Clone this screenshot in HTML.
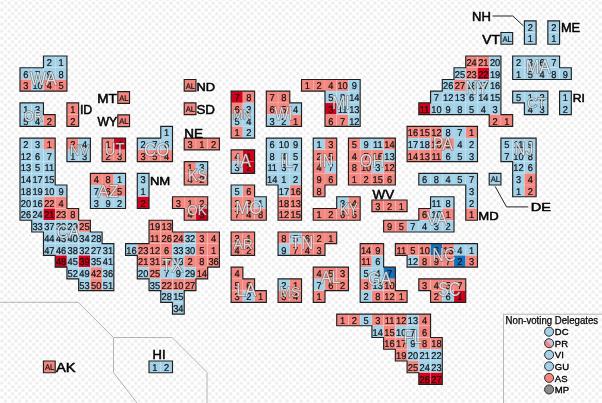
<!DOCTYPE html><html><head><meta charset="utf-8"><style>html,body{margin:0;padding:0;background:#fff;overflow:hidden}</style></head><body><svg width="602" height="403" viewBox="0 0 602 403" style="display:block;will-change:transform">
<defs><pattern id="chk" x="0.2" y="1.3" width="7.04" height="7.04" patternUnits="userSpaceOnUse"><rect width="7.04" height="7.04" fill="#fff"/><rect x="0.26" y="0.26" width="3" height="3" fill="#ededed"/><rect x="3.78" y="3.78" width="3" height="3" fill="#ededed"/></pattern></defs>
<rect width="602" height="403" fill="url(#chk)"/>
<g fill="none" stroke="#b4b4b4" stroke-width="1"><path d="M0 302.3 L78.5 302.3 L113.5 337.5 L172 337.5 L207 372.5 L207 403"/><path d="M113.5 337.5 L113.5 372.5 L137 403"/></g>
<g><rect x="43.46" y="56.00" width="11.73" height="11.73" fill="#a3d1e8" stroke="#ffffff" stroke-opacity="0.22" stroke-width="0.6"/><rect x="55.19" y="56.00" width="11.73" height="11.73" fill="#a3d1e8" stroke="#ffffff" stroke-opacity="0.22" stroke-width="0.6"/><rect x="20.00" y="67.73" width="11.73" height="11.73" fill="#a3d1e8" stroke="#ffffff" stroke-opacity="0.22" stroke-width="0.6"/><rect x="31.73" y="67.73" width="11.73" height="11.73" fill="#a3d1e8" stroke="#ffffff" stroke-opacity="0.22" stroke-width="0.6"/><rect x="43.46" y="67.73" width="11.73" height="11.73" fill="#a3d1e8" stroke="#ffffff" stroke-opacity="0.22" stroke-width="0.6"/><rect x="55.19" y="67.73" width="11.73" height="11.73" fill="#a3d1e8" stroke="#ffffff" stroke-opacity="0.22" stroke-width="0.6"/><rect x="20.00" y="79.46" width="11.73" height="11.73" fill="#f3877f" stroke="#ffffff" stroke-opacity="0.22" stroke-width="0.6"/><rect x="31.73" y="79.46" width="11.73" height="11.73" fill="#a3d1e8" stroke="#ffffff" stroke-opacity="0.22" stroke-width="0.6"/><rect x="43.46" y="79.46" width="11.73" height="11.73" fill="#f3877f" stroke="#ffffff" stroke-opacity="0.22" stroke-width="0.6"/><rect x="55.19" y="79.46" width="11.73" height="11.73" fill="#f3877f" stroke="#ffffff" stroke-opacity="0.22" stroke-width="0.6"/><rect x="20.00" y="102.92" width="11.73" height="11.73" fill="#a3d1e8" stroke="#ffffff" stroke-opacity="0.22" stroke-width="0.6"/><rect x="31.73" y="102.92" width="11.73" height="11.73" fill="#a3d1e8" stroke="#ffffff" stroke-opacity="0.22" stroke-width="0.6"/><rect x="20.00" y="114.65" width="11.73" height="11.73" fill="#a3d1e8" stroke="#ffffff" stroke-opacity="0.22" stroke-width="0.6"/><rect x="31.73" y="114.65" width="11.73" height="11.73" fill="#a3d1e8" stroke="#ffffff" stroke-opacity="0.22" stroke-width="0.6"/><rect x="43.46" y="114.65" width="11.73" height="11.73" fill="#f3877f" stroke="#ffffff" stroke-opacity="0.22" stroke-width="0.6"/><rect x="66.92" y="102.92" width="11.73" height="11.73" fill="#f3877f" stroke="#ffffff" stroke-opacity="0.22" stroke-width="0.6"/><rect x="66.92" y="114.65" width="11.73" height="11.73" fill="#f3877f" stroke="#ffffff" stroke-opacity="0.22" stroke-width="0.6"/><rect x="20.00" y="138.11" width="11.73" height="11.73" fill="#a3d1e8" stroke="#ffffff" stroke-opacity="0.22" stroke-width="0.6"/><rect x="31.73" y="138.11" width="11.73" height="11.73" fill="#a3d1e8" stroke="#ffffff" stroke-opacity="0.22" stroke-width="0.6"/><rect x="43.46" y="138.11" width="11.73" height="11.73" fill="#f3877f" stroke="#ffffff" stroke-opacity="0.22" stroke-width="0.6"/><rect x="20.00" y="149.84" width="11.73" height="11.73" fill="#a3d1e8" stroke="#ffffff" stroke-opacity="0.22" stroke-width="0.6"/><rect x="31.73" y="149.84" width="11.73" height="11.73" fill="#a3d1e8" stroke="#ffffff" stroke-opacity="0.22" stroke-width="0.6"/><rect x="43.46" y="149.84" width="11.73" height="11.73" fill="#a3d1e8" stroke="#ffffff" stroke-opacity="0.22" stroke-width="0.6"/><rect x="20.00" y="161.57" width="11.73" height="11.73" fill="#a3d1e8" stroke="#ffffff" stroke-opacity="0.22" stroke-width="0.6"/><rect x="31.73" y="161.57" width="11.73" height="11.73" fill="#a3d1e8" stroke="#ffffff" stroke-opacity="0.22" stroke-width="0.6"/><rect x="43.46" y="161.57" width="11.73" height="11.73" fill="#a3d1e8" stroke="#ffffff" stroke-opacity="0.22" stroke-width="0.6"/><rect x="20.00" y="173.30" width="11.73" height="11.73" fill="#a3d1e8" stroke="#ffffff" stroke-opacity="0.22" stroke-width="0.6"/><rect x="31.73" y="173.30" width="11.73" height="11.73" fill="#a3d1e8" stroke="#ffffff" stroke-opacity="0.22" stroke-width="0.6"/><rect x="43.46" y="173.30" width="11.73" height="11.73" fill="#a3d1e8" stroke="#ffffff" stroke-opacity="0.22" stroke-width="0.6"/><rect x="20.00" y="185.03" width="11.73" height="11.73" fill="#a3d1e8" stroke="#ffffff" stroke-opacity="0.22" stroke-width="0.6"/><rect x="31.73" y="185.03" width="11.73" height="11.73" fill="#a3d1e8" stroke="#ffffff" stroke-opacity="0.22" stroke-width="0.6"/><rect x="43.46" y="185.03" width="11.73" height="11.73" fill="#a3d1e8" stroke="#ffffff" stroke-opacity="0.22" stroke-width="0.6"/><rect x="55.19" y="185.03" width="11.73" height="11.73" fill="#a3d1e8" stroke="#ffffff" stroke-opacity="0.22" stroke-width="0.6"/><rect x="20.00" y="196.76" width="11.73" height="11.73" fill="#a3d1e8" stroke="#ffffff" stroke-opacity="0.22" stroke-width="0.6"/><rect x="31.73" y="196.76" width="11.73" height="11.73" fill="#a3d1e8" stroke="#ffffff" stroke-opacity="0.22" stroke-width="0.6"/><rect x="43.46" y="196.76" width="11.73" height="11.73" fill="#f3877f" stroke="#ffffff" stroke-opacity="0.22" stroke-width="0.6"/><rect x="55.19" y="196.76" width="11.73" height="11.73" fill="#f3877f" stroke="#ffffff" stroke-opacity="0.22" stroke-width="0.6"/><rect x="20.00" y="208.49" width="11.73" height="11.73" fill="#a3d1e8" stroke="#ffffff" stroke-opacity="0.22" stroke-width="0.6"/><rect x="31.73" y="208.49" width="11.73" height="11.73" fill="#a3d1e8" stroke="#ffffff" stroke-opacity="0.22" stroke-width="0.6"/><rect x="43.46" y="208.49" width="11.73" height="11.73" fill="#d2001a" stroke="#ffffff" stroke-opacity="0.22" stroke-width="0.6"/><rect x="55.19" y="208.49" width="11.73" height="11.73" fill="#f3877f" stroke="#ffffff" stroke-opacity="0.22" stroke-width="0.6"/><rect x="66.92" y="208.49" width="11.73" height="11.73" fill="#f3877f" stroke="#ffffff" stroke-opacity="0.22" stroke-width="0.6"/><rect x="31.73" y="220.22" width="11.73" height="11.73" fill="#a3d1e8" stroke="#ffffff" stroke-opacity="0.22" stroke-width="0.6"/><rect x="43.46" y="220.22" width="11.73" height="11.73" fill="#a3d1e8" stroke="#ffffff" stroke-opacity="0.22" stroke-width="0.6"/><rect x="55.19" y="220.22" width="11.73" height="11.73" fill="#a3d1e8" stroke="#ffffff" stroke-opacity="0.22" stroke-width="0.6"/><rect x="66.92" y="220.22" width="11.73" height="11.73" fill="#a3d1e8" stroke="#ffffff" stroke-opacity="0.22" stroke-width="0.6"/><rect x="78.65" y="220.22" width="11.73" height="11.73" fill="#f3877f" stroke="#ffffff" stroke-opacity="0.22" stroke-width="0.6"/><rect x="43.46" y="231.95" width="11.73" height="11.73" fill="#a3d1e8" stroke="#ffffff" stroke-opacity="0.22" stroke-width="0.6"/><rect x="55.19" y="231.95" width="11.73" height="11.73" fill="#a3d1e8" stroke="#ffffff" stroke-opacity="0.22" stroke-width="0.6"/><rect x="66.92" y="231.95" width="11.73" height="11.73" fill="#a3d1e8" stroke="#ffffff" stroke-opacity="0.22" stroke-width="0.6"/><rect x="78.65" y="231.95" width="11.73" height="11.73" fill="#a3d1e8" stroke="#ffffff" stroke-opacity="0.22" stroke-width="0.6"/><rect x="90.38" y="231.95" width="11.73" height="11.73" fill="#a3d1e8" stroke="#ffffff" stroke-opacity="0.22" stroke-width="0.6"/><rect x="43.46" y="243.68" width="11.73" height="11.73" fill="#a3d1e8" stroke="#ffffff" stroke-opacity="0.22" stroke-width="0.6"/><rect x="55.19" y="243.68" width="11.73" height="11.73" fill="#a3d1e8" stroke="#ffffff" stroke-opacity="0.22" stroke-width="0.6"/><rect x="66.92" y="243.68" width="11.73" height="11.73" fill="#a3d1e8" stroke="#ffffff" stroke-opacity="0.22" stroke-width="0.6"/><rect x="78.65" y="243.68" width="11.73" height="11.73" fill="#a3d1e8" stroke="#ffffff" stroke-opacity="0.22" stroke-width="0.6"/><rect x="90.38" y="243.68" width="11.73" height="11.73" fill="#a3d1e8" stroke="#ffffff" stroke-opacity="0.22" stroke-width="0.6"/><rect x="102.11" y="243.68" width="11.73" height="11.73" fill="#a3d1e8" stroke="#ffffff" stroke-opacity="0.22" stroke-width="0.6"/><rect x="55.19" y="255.41" width="11.73" height="11.73" fill="#d2001a" stroke="#ffffff" stroke-opacity="0.22" stroke-width="0.6"/><rect x="66.92" y="255.41" width="11.73" height="11.73" fill="#a3d1e8" stroke="#ffffff" stroke-opacity="0.22" stroke-width="0.6"/><rect x="78.65" y="255.41" width="11.73" height="11.73" fill="#d2001a" stroke="#ffffff" stroke-opacity="0.22" stroke-width="0.6"/><rect x="90.38" y="255.41" width="11.73" height="11.73" fill="#a3d1e8" stroke="#ffffff" stroke-opacity="0.22" stroke-width="0.6"/><rect x="102.11" y="255.41" width="11.73" height="11.73" fill="#a3d1e8" stroke="#ffffff" stroke-opacity="0.22" stroke-width="0.6"/><rect x="66.92" y="267.14" width="11.73" height="11.73" fill="#a3d1e8" stroke="#ffffff" stroke-opacity="0.22" stroke-width="0.6"/><rect x="78.65" y="267.14" width="11.73" height="11.73" fill="#a3d1e8" stroke="#ffffff" stroke-opacity="0.22" stroke-width="0.6"/><rect x="90.38" y="267.14" width="11.73" height="11.73" fill="#f3877f" stroke="#ffffff" stroke-opacity="0.22" stroke-width="0.6"/><rect x="102.11" y="267.14" width="11.73" height="11.73" fill="#a3d1e8" stroke="#ffffff" stroke-opacity="0.22" stroke-width="0.6"/><rect x="78.65" y="278.87" width="11.73" height="11.73" fill="#a3d1e8" stroke="#ffffff" stroke-opacity="0.22" stroke-width="0.6"/><rect x="90.38" y="278.87" width="11.73" height="11.73" fill="#f3877f" stroke="#ffffff" stroke-opacity="0.22" stroke-width="0.6"/><rect x="102.11" y="278.87" width="11.73" height="11.73" fill="#a3d1e8" stroke="#ffffff" stroke-opacity="0.22" stroke-width="0.6"/><rect x="66.92" y="138.11" width="11.73" height="11.73" fill="#f3877f" stroke="#ffffff" stroke-opacity="0.22" stroke-width="0.6"/><rect x="78.65" y="138.11" width="11.73" height="11.73" fill="#a3d1e8" stroke="#ffffff" stroke-opacity="0.22" stroke-width="0.6"/><rect x="66.92" y="149.84" width="11.73" height="11.73" fill="#a3d1e8" stroke="#ffffff" stroke-opacity="0.22" stroke-width="0.6"/><rect x="78.65" y="149.84" width="11.73" height="11.73" fill="#a3d1e8" stroke="#ffffff" stroke-opacity="0.22" stroke-width="0.6"/><rect x="102.11" y="138.11" width="11.73" height="11.73" fill="#f3877f" stroke="#ffffff" stroke-opacity="0.22" stroke-width="0.6"/><rect x="113.84" y="138.11" width="11.73" height="11.73" fill="#d2001a" stroke="#ffffff" stroke-opacity="0.22" stroke-width="0.6"/><rect x="102.11" y="149.84" width="11.73" height="11.73" fill="#f3877f" stroke="#ffffff" stroke-opacity="0.22" stroke-width="0.6"/><rect x="113.84" y="149.84" width="11.73" height="11.73" fill="#f3877f" stroke="#ffffff" stroke-opacity="0.22" stroke-width="0.6"/><rect x="160.76" y="126.38" width="11.73" height="11.73" fill="#a3d1e8" stroke="#ffffff" stroke-opacity="0.22" stroke-width="0.6"/><rect x="137.30" y="138.11" width="11.73" height="11.73" fill="#a3d1e8" stroke="#ffffff" stroke-opacity="0.22" stroke-width="0.6"/><rect x="149.03" y="138.11" width="11.73" height="11.73" fill="#a3d1e8" stroke="#ffffff" stroke-opacity="0.22" stroke-width="0.6"/><rect x="160.76" y="138.11" width="11.73" height="11.73" fill="#a3d1e8" stroke="#ffffff" stroke-opacity="0.22" stroke-width="0.6"/><rect x="137.30" y="149.84" width="11.73" height="11.73" fill="#f3877f" stroke="#ffffff" stroke-opacity="0.22" stroke-width="0.6"/><rect x="149.03" y="149.84" width="11.73" height="11.73" fill="#f3877f" stroke="#ffffff" stroke-opacity="0.22" stroke-width="0.6"/><rect x="160.76" y="149.84" width="11.73" height="11.73" fill="#f3877f" stroke="#ffffff" stroke-opacity="0.22" stroke-width="0.6"/><rect x="90.38" y="173.30" width="11.73" height="11.73" fill="#f3877f" stroke="#ffffff" stroke-opacity="0.22" stroke-width="0.6"/><rect x="102.11" y="173.30" width="11.73" height="11.73" fill="#f3877f" stroke="#ffffff" stroke-opacity="0.22" stroke-width="0.6"/><rect x="113.84" y="173.30" width="11.73" height="11.73" fill="#a3d1e8" stroke="#ffffff" stroke-opacity="0.22" stroke-width="0.6"/><rect x="90.38" y="185.03" width="11.73" height="11.73" fill="#a3d1e8" stroke="#ffffff" stroke-opacity="0.22" stroke-width="0.6"/><rect x="102.11" y="185.03" width="11.73" height="11.73" fill="#f3877f" stroke="#ffffff" stroke-opacity="0.22" stroke-width="0.6"/><rect x="113.84" y="185.03" width="11.73" height="11.73" fill="#f3877f" stroke="#ffffff" stroke-opacity="0.22" stroke-width="0.6"/><rect x="90.38" y="196.76" width="11.73" height="11.73" fill="#a3d1e8" stroke="#ffffff" stroke-opacity="0.22" stroke-width="0.6"/><rect x="102.11" y="196.76" width="11.73" height="11.73" fill="#a3d1e8" stroke="#ffffff" stroke-opacity="0.22" stroke-width="0.6"/><rect x="113.84" y="196.76" width="11.73" height="11.73" fill="#a3d1e8" stroke="#ffffff" stroke-opacity="0.22" stroke-width="0.6"/><rect x="137.30" y="173.30" width="11.73" height="11.73" fill="#a3d1e8" stroke="#ffffff" stroke-opacity="0.22" stroke-width="0.6"/><rect x="137.30" y="185.03" width="11.73" height="11.73" fill="#a3d1e8" stroke="#ffffff" stroke-opacity="0.22" stroke-width="0.6"/><rect x="137.30" y="196.76" width="11.73" height="11.73" fill="#d2001a" stroke="#ffffff" stroke-opacity="0.22" stroke-width="0.6"/><rect x="184.22" y="79.46" width="11.73" height="11.73" fill="#f3877f" stroke="#ffffff" stroke-opacity="0.22" stroke-width="0.6"/><rect x="184.22" y="102.92" width="11.73" height="11.73" fill="#f3877f" stroke="#ffffff" stroke-opacity="0.22" stroke-width="0.6"/><rect x="184.22" y="138.11" width="11.73" height="11.73" fill="#f3877f" stroke="#ffffff" stroke-opacity="0.22" stroke-width="0.6"/><rect x="195.95" y="138.11" width="11.73" height="11.73" fill="#f3877f" stroke="#ffffff" stroke-opacity="0.22" stroke-width="0.6"/><rect x="207.68" y="138.11" width="11.73" height="11.73" fill="#f3877f" stroke="#ffffff" stroke-opacity="0.22" stroke-width="0.6"/><rect x="184.22" y="161.57" width="11.73" height="11.73" fill="#f3877f" stroke="#ffffff" stroke-opacity="0.22" stroke-width="0.6"/><rect x="195.95" y="161.57" width="11.73" height="11.73" fill="#a3d1e8" stroke="#ffffff" stroke-opacity="0.22" stroke-width="0.6"/><rect x="184.22" y="173.30" width="11.73" height="11.73" fill="#f3877f" stroke="#ffffff" stroke-opacity="0.22" stroke-width="0.6"/><rect x="195.95" y="173.30" width="11.73" height="11.73" fill="#f3877f" stroke="#ffffff" stroke-opacity="0.22" stroke-width="0.6"/><rect x="172.49" y="196.76" width="11.73" height="11.73" fill="#f3877f" stroke="#ffffff" stroke-opacity="0.22" stroke-width="0.6"/><rect x="184.22" y="196.76" width="11.73" height="11.73" fill="#f3877f" stroke="#ffffff" stroke-opacity="0.22" stroke-width="0.6"/><rect x="195.95" y="196.76" width="11.73" height="11.73" fill="#f3877f" stroke="#ffffff" stroke-opacity="0.22" stroke-width="0.6"/><rect x="184.22" y="208.49" width="11.73" height="11.73" fill="#f3877f" stroke="#ffffff" stroke-opacity="0.22" stroke-width="0.6"/><rect x="195.95" y="208.49" width="11.73" height="11.73" fill="#d2001a" stroke="#ffffff" stroke-opacity="0.22" stroke-width="0.6"/><rect x="149.03" y="220.22" width="11.73" height="11.73" fill="#f3877f" stroke="#ffffff" stroke-opacity="0.22" stroke-width="0.6"/><rect x="160.76" y="220.22" width="11.73" height="11.73" fill="#f3877f" stroke="#ffffff" stroke-opacity="0.22" stroke-width="0.6"/><rect x="149.03" y="231.95" width="11.73" height="11.73" fill="#f3877f" stroke="#ffffff" stroke-opacity="0.22" stroke-width="0.6"/><rect x="160.76" y="231.95" width="11.73" height="11.73" fill="#f3877f" stroke="#ffffff" stroke-opacity="0.22" stroke-width="0.6"/><rect x="172.49" y="231.95" width="11.73" height="11.73" fill="#f3877f" stroke="#ffffff" stroke-opacity="0.22" stroke-width="0.6"/><rect x="184.22" y="231.95" width="11.73" height="11.73" fill="#a3d1e8" stroke="#ffffff" stroke-opacity="0.22" stroke-width="0.6"/><rect x="195.95" y="231.95" width="11.73" height="11.73" fill="#f3877f" stroke="#ffffff" stroke-opacity="0.22" stroke-width="0.6"/><rect x="207.68" y="231.95" width="11.73" height="11.73" fill="#f3877f" stroke="#ffffff" stroke-opacity="0.22" stroke-width="0.6"/><rect x="125.57" y="243.68" width="11.73" height="11.73" fill="#a3d1e8" stroke="#ffffff" stroke-opacity="0.22" stroke-width="0.6"/><rect x="137.30" y="243.68" width="11.73" height="11.73" fill="#f3877f" stroke="#ffffff" stroke-opacity="0.22" stroke-width="0.6"/><rect x="149.03" y="243.68" width="11.73" height="11.73" fill="#f3877f" stroke="#ffffff" stroke-opacity="0.22" stroke-width="0.6"/><rect x="160.76" y="243.68" width="11.73" height="11.73" fill="#f3877f" stroke="#ffffff" stroke-opacity="0.22" stroke-width="0.6"/><rect x="172.49" y="243.68" width="11.73" height="11.73" fill="#a3d1e8" stroke="#ffffff" stroke-opacity="0.22" stroke-width="0.6"/><rect x="184.22" y="243.68" width="11.73" height="11.73" fill="#a3d1e8" stroke="#ffffff" stroke-opacity="0.22" stroke-width="0.6"/><rect x="195.95" y="243.68" width="11.73" height="11.73" fill="#f3877f" stroke="#ffffff" stroke-opacity="0.22" stroke-width="0.6"/><rect x="207.68" y="243.68" width="11.73" height="11.73" fill="#f3877f" stroke="#ffffff" stroke-opacity="0.22" stroke-width="0.6"/><rect x="137.30" y="255.41" width="11.73" height="11.73" fill="#f3877f" stroke="#ffffff" stroke-opacity="0.22" stroke-width="0.6"/><rect x="149.03" y="255.41" width="11.73" height="11.73" fill="#f3877f" stroke="#ffffff" stroke-opacity="0.22" stroke-width="0.6"/><rect x="160.76" y="255.41" width="11.73" height="11.73" fill="#f3877f" stroke="#ffffff" stroke-opacity="0.22" stroke-width="0.6"/><rect x="172.49" y="255.41" width="11.73" height="11.73" fill="#a3d1e8" stroke="#ffffff" stroke-opacity="0.22" stroke-width="0.6"/><rect x="184.22" y="255.41" width="11.73" height="11.73" fill="#f3877f" stroke="#ffffff" stroke-opacity="0.22" stroke-width="0.6"/><rect x="195.95" y="255.41" width="11.73" height="11.73" fill="#f3877f" stroke="#ffffff" stroke-opacity="0.22" stroke-width="0.6"/><rect x="207.68" y="255.41" width="11.73" height="11.73" fill="#f3877f" stroke="#ffffff" stroke-opacity="0.22" stroke-width="0.6"/><rect x="137.30" y="267.14" width="11.73" height="11.73" fill="#a3d1e8" stroke="#ffffff" stroke-opacity="0.22" stroke-width="0.6"/><rect x="149.03" y="267.14" width="11.73" height="11.73" fill="#f3877f" stroke="#ffffff" stroke-opacity="0.22" stroke-width="0.6"/><rect x="160.76" y="267.14" width="11.73" height="11.73" fill="#a3d1e8" stroke="#ffffff" stroke-opacity="0.22" stroke-width="0.6"/><rect x="172.49" y="267.14" width="11.73" height="11.73" fill="#a3d1e8" stroke="#ffffff" stroke-opacity="0.22" stroke-width="0.6"/><rect x="184.22" y="267.14" width="11.73" height="11.73" fill="#a3d1e8" stroke="#ffffff" stroke-opacity="0.22" stroke-width="0.6"/><rect x="195.95" y="267.14" width="11.73" height="11.73" fill="#f3877f" stroke="#ffffff" stroke-opacity="0.22" stroke-width="0.6"/><rect x="149.03" y="278.87" width="11.73" height="11.73" fill="#a3d1e8" stroke="#ffffff" stroke-opacity="0.22" stroke-width="0.6"/><rect x="160.76" y="278.87" width="11.73" height="11.73" fill="#f3877f" stroke="#ffffff" stroke-opacity="0.22" stroke-width="0.6"/><rect x="172.49" y="278.87" width="11.73" height="11.73" fill="#f3877f" stroke="#ffffff" stroke-opacity="0.22" stroke-width="0.6"/><rect x="184.22" y="278.87" width="11.73" height="11.73" fill="#f3877f" stroke="#ffffff" stroke-opacity="0.22" stroke-width="0.6"/><rect x="160.76" y="290.60" width="11.73" height="11.73" fill="#a3d1e8" stroke="#ffffff" stroke-opacity="0.22" stroke-width="0.6"/><rect x="172.49" y="290.60" width="11.73" height="11.73" fill="#a3d1e8" stroke="#ffffff" stroke-opacity="0.22" stroke-width="0.6"/><rect x="172.49" y="302.33" width="11.73" height="11.73" fill="#a3d1e8" stroke="#ffffff" stroke-opacity="0.22" stroke-width="0.6"/><rect x="231.14" y="91.19" width="11.73" height="11.73" fill="#d2001a" stroke="#ffffff" stroke-opacity="0.22" stroke-width="0.6"/><rect x="242.87" y="91.19" width="11.73" height="11.73" fill="#f3877f" stroke="#ffffff" stroke-opacity="0.22" stroke-width="0.6"/><rect x="231.14" y="102.92" width="11.73" height="11.73" fill="#f3877f" stroke="#ffffff" stroke-opacity="0.22" stroke-width="0.6"/><rect x="242.87" y="102.92" width="11.73" height="11.73" fill="#a3d1e8" stroke="#ffffff" stroke-opacity="0.22" stroke-width="0.6"/><rect x="231.14" y="114.65" width="11.73" height="11.73" fill="#a3d1e8" stroke="#ffffff" stroke-opacity="0.22" stroke-width="0.6"/><rect x="242.87" y="114.65" width="11.73" height="11.73" fill="#a3d1e8" stroke="#ffffff" stroke-opacity="0.22" stroke-width="0.6"/><rect x="231.14" y="126.38" width="11.73" height="11.73" fill="#f3877f" stroke="#ffffff" stroke-opacity="0.22" stroke-width="0.6"/><rect x="242.87" y="126.38" width="11.73" height="11.73" fill="#a3d1e8" stroke="#ffffff" stroke-opacity="0.22" stroke-width="0.6"/><rect x="231.14" y="149.84" width="11.73" height="11.73" fill="#f3877f" stroke="#ffffff" stroke-opacity="0.22" stroke-width="0.6"/><rect x="242.87" y="149.84" width="11.73" height="11.73" fill="#d2001a" stroke="#ffffff" stroke-opacity="0.22" stroke-width="0.6"/><rect x="231.14" y="161.57" width="11.73" height="11.73" fill="#a3d1e8" stroke="#ffffff" stroke-opacity="0.22" stroke-width="0.6"/><rect x="242.87" y="161.57" width="11.73" height="11.73" fill="#d2001a" stroke="#ffffff" stroke-opacity="0.22" stroke-width="0.6"/><rect x="231.14" y="185.03" width="11.73" height="11.73" fill="#a3d1e8" stroke="#ffffff" stroke-opacity="0.22" stroke-width="0.6"/><rect x="242.87" y="185.03" width="11.73" height="11.73" fill="#f3877f" stroke="#ffffff" stroke-opacity="0.22" stroke-width="0.6"/><rect x="231.14" y="196.76" width="11.73" height="11.73" fill="#f3877f" stroke="#ffffff" stroke-opacity="0.22" stroke-width="0.6"/><rect x="242.87" y="196.76" width="11.73" height="11.73" fill="#f3877f" stroke="#ffffff" stroke-opacity="0.22" stroke-width="0.6"/><rect x="254.60" y="196.76" width="11.73" height="11.73" fill="#a3d1e8" stroke="#ffffff" stroke-opacity="0.22" stroke-width="0.6"/><rect x="231.14" y="208.49" width="11.73" height="11.73" fill="#f3877f" stroke="#ffffff" stroke-opacity="0.22" stroke-width="0.6"/><rect x="242.87" y="208.49" width="11.73" height="11.73" fill="#f3877f" stroke="#ffffff" stroke-opacity="0.22" stroke-width="0.6"/><rect x="254.60" y="208.49" width="11.73" height="11.73" fill="#f3877f" stroke="#ffffff" stroke-opacity="0.22" stroke-width="0.6"/><rect x="231.14" y="231.95" width="11.73" height="11.73" fill="#f3877f" stroke="#ffffff" stroke-opacity="0.22" stroke-width="0.6"/><rect x="242.87" y="231.95" width="11.73" height="11.73" fill="#f3877f" stroke="#ffffff" stroke-opacity="0.22" stroke-width="0.6"/><rect x="231.14" y="243.68" width="11.73" height="11.73" fill="#f3877f" stroke="#ffffff" stroke-opacity="0.22" stroke-width="0.6"/><rect x="242.87" y="243.68" width="11.73" height="11.73" fill="#f3877f" stroke="#ffffff" stroke-opacity="0.22" stroke-width="0.6"/><rect x="231.14" y="267.14" width="11.73" height="11.73" fill="#f3877f" stroke="#ffffff" stroke-opacity="0.22" stroke-width="0.6"/><rect x="231.14" y="278.87" width="11.73" height="11.73" fill="#f3877f" stroke="#ffffff" stroke-opacity="0.22" stroke-width="0.6"/><rect x="242.87" y="278.87" width="11.73" height="11.73" fill="#f3877f" stroke="#ffffff" stroke-opacity="0.22" stroke-width="0.6"/><rect x="231.14" y="290.60" width="11.73" height="11.73" fill="#f3877f" stroke="#ffffff" stroke-opacity="0.22" stroke-width="0.6"/><rect x="242.87" y="290.60" width="11.73" height="11.73" fill="#a3d1e8" stroke="#ffffff" stroke-opacity="0.22" stroke-width="0.6"/><rect x="254.60" y="290.60" width="11.73" height="11.73" fill="#f3877f" stroke="#ffffff" stroke-opacity="0.22" stroke-width="0.6"/><rect x="266.33" y="91.19" width="11.73" height="11.73" fill="#f3877f" stroke="#ffffff" stroke-opacity="0.22" stroke-width="0.6"/><rect x="278.06" y="91.19" width="11.73" height="11.73" fill="#f3877f" stroke="#ffffff" stroke-opacity="0.22" stroke-width="0.6"/><rect x="266.33" y="102.92" width="11.73" height="11.73" fill="#f3877f" stroke="#ffffff" stroke-opacity="0.22" stroke-width="0.6"/><rect x="278.06" y="102.92" width="11.73" height="11.73" fill="#f3877f" stroke="#ffffff" stroke-opacity="0.22" stroke-width="0.6"/><rect x="289.79" y="102.92" width="11.73" height="11.73" fill="#a3d1e8" stroke="#ffffff" stroke-opacity="0.22" stroke-width="0.6"/><rect x="266.33" y="114.65" width="11.73" height="11.73" fill="#a3d1e8" stroke="#ffffff" stroke-opacity="0.22" stroke-width="0.6"/><rect x="278.06" y="114.65" width="11.73" height="11.73" fill="#a3d1e8" stroke="#ffffff" stroke-opacity="0.22" stroke-width="0.6"/><rect x="289.79" y="114.65" width="11.73" height="11.73" fill="#f3877f" stroke="#ffffff" stroke-opacity="0.22" stroke-width="0.6"/><rect x="266.33" y="138.11" width="11.73" height="11.73" fill="#a3d1e8" stroke="#ffffff" stroke-opacity="0.22" stroke-width="0.6"/><rect x="278.06" y="138.11" width="11.73" height="11.73" fill="#a3d1e8" stroke="#ffffff" stroke-opacity="0.22" stroke-width="0.6"/><rect x="289.79" y="138.11" width="11.73" height="11.73" fill="#a3d1e8" stroke="#ffffff" stroke-opacity="0.22" stroke-width="0.6"/><rect x="266.33" y="149.84" width="11.73" height="11.73" fill="#a3d1e8" stroke="#ffffff" stroke-opacity="0.22" stroke-width="0.6"/><rect x="278.06" y="149.84" width="11.73" height="11.73" fill="#a3d1e8" stroke="#ffffff" stroke-opacity="0.22" stroke-width="0.6"/><rect x="289.79" y="149.84" width="11.73" height="11.73" fill="#a3d1e8" stroke="#ffffff" stroke-opacity="0.22" stroke-width="0.6"/><rect x="266.33" y="161.57" width="11.73" height="11.73" fill="#a3d1e8" stroke="#ffffff" stroke-opacity="0.22" stroke-width="0.6"/><rect x="278.06" y="161.57" width="11.73" height="11.73" fill="#a3d1e8" stroke="#ffffff" stroke-opacity="0.22" stroke-width="0.6"/><rect x="289.79" y="161.57" width="11.73" height="11.73" fill="#a3d1e8" stroke="#ffffff" stroke-opacity="0.22" stroke-width="0.6"/><rect x="266.33" y="173.30" width="11.73" height="11.73" fill="#a3d1e8" stroke="#ffffff" stroke-opacity="0.22" stroke-width="0.6"/><rect x="278.06" y="173.30" width="11.73" height="11.73" fill="#a3d1e8" stroke="#ffffff" stroke-opacity="0.22" stroke-width="0.6"/><rect x="289.79" y="173.30" width="11.73" height="11.73" fill="#a3d1e8" stroke="#ffffff" stroke-opacity="0.22" stroke-width="0.6"/><rect x="278.06" y="185.03" width="11.73" height="11.73" fill="#a3d1e8" stroke="#ffffff" stroke-opacity="0.22" stroke-width="0.6"/><rect x="289.79" y="185.03" width="11.73" height="11.73" fill="#f3877f" stroke="#ffffff" stroke-opacity="0.22" stroke-width="0.6"/><rect x="278.06" y="196.76" width="11.73" height="11.73" fill="#f3877f" stroke="#ffffff" stroke-opacity="0.22" stroke-width="0.6"/><rect x="289.79" y="196.76" width="11.73" height="11.73" fill="#f3877f" stroke="#ffffff" stroke-opacity="0.22" stroke-width="0.6"/><rect x="278.06" y="208.49" width="11.73" height="11.73" fill="#f3877f" stroke="#ffffff" stroke-opacity="0.22" stroke-width="0.6"/><rect x="289.79" y="208.49" width="11.73" height="11.73" fill="#f3877f" stroke="#ffffff" stroke-opacity="0.22" stroke-width="0.6"/><rect x="301.52" y="79.46" width="11.73" height="11.73" fill="#f3877f" stroke="#ffffff" stroke-opacity="0.22" stroke-width="0.6"/><rect x="313.25" y="79.46" width="11.73" height="11.73" fill="#f3877f" stroke="#ffffff" stroke-opacity="0.22" stroke-width="0.6"/><rect x="324.98" y="79.46" width="11.73" height="11.73" fill="#f3877f" stroke="#ffffff" stroke-opacity="0.22" stroke-width="0.6"/><rect x="336.71" y="79.46" width="11.73" height="11.73" fill="#f3877f" stroke="#ffffff" stroke-opacity="0.22" stroke-width="0.6"/><rect x="348.44" y="79.46" width="11.73" height="11.73" fill="#a3d1e8" stroke="#ffffff" stroke-opacity="0.22" stroke-width="0.6"/><rect x="324.98" y="91.19" width="11.73" height="11.73" fill="#a3d1e8" stroke="#ffffff" stroke-opacity="0.22" stroke-width="0.6"/><rect x="336.71" y="91.19" width="11.73" height="11.73" fill="#a3d1e8" stroke="#ffffff" stroke-opacity="0.22" stroke-width="0.6"/><rect x="348.44" y="91.19" width="11.73" height="11.73" fill="#a3d1e8" stroke="#ffffff" stroke-opacity="0.22" stroke-width="0.6"/><rect x="324.98" y="102.92" width="11.73" height="11.73" fill="#d2001a" stroke="#ffffff" stroke-opacity="0.22" stroke-width="0.6"/><rect x="336.71" y="102.92" width="11.73" height="11.73" fill="#a3d1e8" stroke="#ffffff" stroke-opacity="0.22" stroke-width="0.6"/><rect x="348.44" y="102.92" width="11.73" height="11.73" fill="#a3d1e8" stroke="#ffffff" stroke-opacity="0.22" stroke-width="0.6"/><rect x="324.98" y="114.65" width="11.73" height="11.73" fill="#f3877f" stroke="#ffffff" stroke-opacity="0.22" stroke-width="0.6"/><rect x="336.71" y="114.65" width="11.73" height="11.73" fill="#f3877f" stroke="#ffffff" stroke-opacity="0.22" stroke-width="0.6"/><rect x="348.44" y="114.65" width="11.73" height="11.73" fill="#a3d1e8" stroke="#ffffff" stroke-opacity="0.22" stroke-width="0.6"/><rect x="313.25" y="138.11" width="11.73" height="11.73" fill="#a3d1e8" stroke="#ffffff" stroke-opacity="0.22" stroke-width="0.6"/><rect x="324.98" y="138.11" width="11.73" height="11.73" fill="#f3877f" stroke="#ffffff" stroke-opacity="0.22" stroke-width="0.6"/><rect x="313.25" y="149.84" width="11.73" height="11.73" fill="#f3877f" stroke="#ffffff" stroke-opacity="0.22" stroke-width="0.6"/><rect x="324.98" y="149.84" width="11.73" height="11.73" fill="#f3877f" stroke="#ffffff" stroke-opacity="0.22" stroke-width="0.6"/><rect x="313.25" y="161.57" width="11.73" height="11.73" fill="#f3877f" stroke="#ffffff" stroke-opacity="0.22" stroke-width="0.6"/><rect x="324.98" y="161.57" width="11.73" height="11.73" fill="#a3d1e8" stroke="#ffffff" stroke-opacity="0.22" stroke-width="0.6"/><rect x="313.25" y="173.30" width="11.73" height="11.73" fill="#f3877f" stroke="#ffffff" stroke-opacity="0.22" stroke-width="0.6"/><rect x="324.98" y="173.30" width="11.73" height="11.73" fill="#f3877f" stroke="#ffffff" stroke-opacity="0.22" stroke-width="0.6"/><rect x="313.25" y="185.03" width="11.73" height="11.73" fill="#f3877f" stroke="#ffffff" stroke-opacity="0.22" stroke-width="0.6"/><rect x="348.44" y="138.11" width="11.73" height="11.73" fill="#f3877f" stroke="#ffffff" stroke-opacity="0.22" stroke-width="0.6"/><rect x="360.17" y="138.11" width="11.73" height="11.73" fill="#a3d1e8" stroke="#ffffff" stroke-opacity="0.22" stroke-width="0.6"/><rect x="371.90" y="138.11" width="11.73" height="11.73" fill="#a3d1e8" stroke="#ffffff" stroke-opacity="0.22" stroke-width="0.6"/><rect x="383.63" y="138.11" width="11.73" height="11.73" fill="#f3877f" stroke="#ffffff" stroke-opacity="0.22" stroke-width="0.6"/><rect x="348.44" y="149.84" width="11.73" height="11.73" fill="#f3877f" stroke="#ffffff" stroke-opacity="0.22" stroke-width="0.6"/><rect x="360.17" y="149.84" width="11.73" height="11.73" fill="#f3877f" stroke="#ffffff" stroke-opacity="0.22" stroke-width="0.6"/><rect x="371.90" y="149.84" width="11.73" height="11.73" fill="#f3877f" stroke="#ffffff" stroke-opacity="0.22" stroke-width="0.6"/><rect x="383.63" y="149.84" width="11.73" height="11.73" fill="#a3d1e8" stroke="#ffffff" stroke-opacity="0.22" stroke-width="0.6"/><rect x="348.44" y="161.57" width="11.73" height="11.73" fill="#f3877f" stroke="#ffffff" stroke-opacity="0.22" stroke-width="0.6"/><rect x="360.17" y="161.57" width="11.73" height="11.73" fill="#f3877f" stroke="#ffffff" stroke-opacity="0.22" stroke-width="0.6"/><rect x="371.90" y="161.57" width="11.73" height="11.73" fill="#a3d1e8" stroke="#ffffff" stroke-opacity="0.22" stroke-width="0.6"/><rect x="383.63" y="161.57" width="11.73" height="11.73" fill="#f3877f" stroke="#ffffff" stroke-opacity="0.22" stroke-width="0.6"/><rect x="348.44" y="173.30" width="11.73" height="11.73" fill="#f3877f" stroke="#ffffff" stroke-opacity="0.22" stroke-width="0.6"/><rect x="360.17" y="173.30" width="11.73" height="11.73" fill="#f3877f" stroke="#ffffff" stroke-opacity="0.22" stroke-width="0.6"/><rect x="371.90" y="173.30" width="11.73" height="11.73" fill="#f3877f" stroke="#ffffff" stroke-opacity="0.22" stroke-width="0.6"/><rect x="383.63" y="173.30" width="11.73" height="11.73" fill="#f3877f" stroke="#ffffff" stroke-opacity="0.22" stroke-width="0.6"/><rect x="336.71" y="196.76" width="11.73" height="11.73" fill="#a3d1e8" stroke="#ffffff" stroke-opacity="0.22" stroke-width="0.6"/><rect x="348.44" y="196.76" width="11.73" height="11.73" fill="#f3877f" stroke="#ffffff" stroke-opacity="0.22" stroke-width="0.6"/><rect x="313.25" y="208.49" width="11.73" height="11.73" fill="#f3877f" stroke="#ffffff" stroke-opacity="0.22" stroke-width="0.6"/><rect x="324.98" y="208.49" width="11.73" height="11.73" fill="#f3877f" stroke="#ffffff" stroke-opacity="0.22" stroke-width="0.6"/><rect x="336.71" y="208.49" width="11.73" height="11.73" fill="#f3877f" stroke="#ffffff" stroke-opacity="0.22" stroke-width="0.6"/><rect x="348.44" y="208.49" width="11.73" height="11.73" fill="#f3877f" stroke="#ffffff" stroke-opacity="0.22" stroke-width="0.6"/><rect x="371.90" y="199.96" width="11.73" height="11.73" fill="#f3877f" stroke="#ffffff" stroke-opacity="0.22" stroke-width="0.6"/><rect x="383.63" y="199.96" width="11.73" height="11.73" fill="#f3877f" stroke="#ffffff" stroke-opacity="0.22" stroke-width="0.6"/><rect x="395.36" y="199.96" width="11.73" height="11.73" fill="#f3877f" stroke="#ffffff" stroke-opacity="0.22" stroke-width="0.6"/><rect x="278.06" y="231.95" width="11.73" height="11.73" fill="#f3877f" stroke="#ffffff" stroke-opacity="0.22" stroke-width="0.6"/><rect x="289.79" y="231.95" width="11.73" height="11.73" fill="#a3d1e8" stroke="#ffffff" stroke-opacity="0.22" stroke-width="0.6"/><rect x="301.52" y="231.95" width="11.73" height="11.73" fill="#f3877f" stroke="#ffffff" stroke-opacity="0.22" stroke-width="0.6"/><rect x="313.25" y="231.95" width="11.73" height="11.73" fill="#f3877f" stroke="#ffffff" stroke-opacity="0.22" stroke-width="0.6"/><rect x="324.98" y="231.95" width="11.73" height="11.73" fill="#f3877f" stroke="#ffffff" stroke-opacity="0.22" stroke-width="0.6"/><rect x="278.06" y="243.68" width="11.73" height="11.73" fill="#a3d1e8" stroke="#ffffff" stroke-opacity="0.22" stroke-width="0.6"/><rect x="289.79" y="243.68" width="11.73" height="11.73" fill="#f3877f" stroke="#ffffff" stroke-opacity="0.22" stroke-width="0.6"/><rect x="301.52" y="243.68" width="11.73" height="11.73" fill="#f3877f" stroke="#ffffff" stroke-opacity="0.22" stroke-width="0.6"/><rect x="313.25" y="243.68" width="11.73" height="11.73" fill="#f3877f" stroke="#ffffff" stroke-opacity="0.22" stroke-width="0.6"/><rect x="278.06" y="278.87" width="11.73" height="11.73" fill="#a3d1e8" stroke="#ffffff" stroke-opacity="0.22" stroke-width="0.6"/><rect x="289.79" y="278.87" width="11.73" height="11.73" fill="#f3877f" stroke="#ffffff" stroke-opacity="0.22" stroke-width="0.6"/><rect x="278.06" y="290.60" width="11.73" height="11.73" fill="#f3877f" stroke="#ffffff" stroke-opacity="0.22" stroke-width="0.6"/><rect x="289.79" y="290.60" width="11.73" height="11.73" fill="#f3877f" stroke="#ffffff" stroke-opacity="0.22" stroke-width="0.6"/><rect x="313.25" y="267.14" width="11.73" height="11.73" fill="#f3877f" stroke="#ffffff" stroke-opacity="0.22" stroke-width="0.6"/><rect x="324.98" y="267.14" width="11.73" height="11.73" fill="#f3877f" stroke="#ffffff" stroke-opacity="0.22" stroke-width="0.6"/><rect x="336.71" y="267.14" width="11.73" height="11.73" fill="#f3877f" stroke="#ffffff" stroke-opacity="0.22" stroke-width="0.6"/><rect x="313.25" y="278.87" width="11.73" height="11.73" fill="#a3d1e8" stroke="#ffffff" stroke-opacity="0.22" stroke-width="0.6"/><rect x="324.98" y="278.87" width="11.73" height="11.73" fill="#f3877f" stroke="#ffffff" stroke-opacity="0.22" stroke-width="0.6"/><rect x="336.71" y="278.87" width="11.73" height="11.73" fill="#f3877f" stroke="#ffffff" stroke-opacity="0.22" stroke-width="0.6"/><rect x="313.25" y="290.60" width="11.73" height="11.73" fill="#f3877f" stroke="#ffffff" stroke-opacity="0.22" stroke-width="0.6"/><rect x="360.17" y="243.68" width="11.73" height="11.73" fill="#f3877f" stroke="#ffffff" stroke-opacity="0.22" stroke-width="0.6"/><rect x="371.90" y="243.68" width="11.73" height="11.73" fill="#f3877f" stroke="#ffffff" stroke-opacity="0.22" stroke-width="0.6"/><rect x="360.17" y="255.41" width="11.73" height="11.73" fill="#f3877f" stroke="#ffffff" stroke-opacity="0.22" stroke-width="0.6"/><rect x="371.90" y="255.41" width="11.73" height="11.73" fill="#a3d1e8" stroke="#ffffff" stroke-opacity="0.22" stroke-width="0.6"/><rect x="360.17" y="267.14" width="11.73" height="11.73" fill="#a3d1e8" stroke="#ffffff" stroke-opacity="0.22" stroke-width="0.6"/><rect x="371.90" y="267.14" width="11.73" height="11.73" fill="#a3d1e8" stroke="#ffffff" stroke-opacity="0.22" stroke-width="0.6"/><rect x="383.63" y="267.14" width="11.73" height="11.73" fill="#1570bb" stroke="#ffffff" stroke-opacity="0.22" stroke-width="0.6"/><rect x="360.17" y="278.87" width="11.73" height="11.73" fill="#f3877f" stroke="#ffffff" stroke-opacity="0.22" stroke-width="0.6"/><rect x="371.90" y="278.87" width="11.73" height="11.73" fill="#a3d1e8" stroke="#ffffff" stroke-opacity="0.22" stroke-width="0.6"/><rect x="383.63" y="278.87" width="11.73" height="11.73" fill="#f3877f" stroke="#ffffff" stroke-opacity="0.22" stroke-width="0.6"/><rect x="360.17" y="290.60" width="11.73" height="11.73" fill="#a3d1e8" stroke="#ffffff" stroke-opacity="0.22" stroke-width="0.6"/><rect x="371.90" y="290.60" width="11.73" height="11.73" fill="#f3877f" stroke="#ffffff" stroke-opacity="0.22" stroke-width="0.6"/><rect x="383.63" y="290.60" width="11.73" height="11.73" fill="#f3877f" stroke="#ffffff" stroke-opacity="0.22" stroke-width="0.6"/><rect x="395.36" y="290.60" width="11.73" height="11.73" fill="#f3877f" stroke="#ffffff" stroke-opacity="0.22" stroke-width="0.6"/><rect x="336.71" y="314.06" width="11.73" height="11.73" fill="#f3877f" stroke="#ffffff" stroke-opacity="0.22" stroke-width="0.6"/><rect x="348.44" y="314.06" width="11.73" height="11.73" fill="#f3877f" stroke="#ffffff" stroke-opacity="0.22" stroke-width="0.6"/><rect x="360.17" y="314.06" width="11.73" height="11.73" fill="#a3d1e8" stroke="#ffffff" stroke-opacity="0.22" stroke-width="0.6"/><rect x="371.90" y="314.06" width="11.73" height="11.73" fill="#f3877f" stroke="#ffffff" stroke-opacity="0.22" stroke-width="0.6"/><rect x="383.63" y="314.06" width="11.73" height="11.73" fill="#f3877f" stroke="#ffffff" stroke-opacity="0.22" stroke-width="0.6"/><rect x="395.36" y="314.06" width="11.73" height="11.73" fill="#f3877f" stroke="#ffffff" stroke-opacity="0.22" stroke-width="0.6"/><rect x="407.09" y="314.06" width="11.73" height="11.73" fill="#a3d1e8" stroke="#ffffff" stroke-opacity="0.22" stroke-width="0.6"/><rect x="418.82" y="314.06" width="11.73" height="11.73" fill="#f3877f" stroke="#ffffff" stroke-opacity="0.22" stroke-width="0.6"/><rect x="371.90" y="325.79" width="11.73" height="11.73" fill="#a3d1e8" stroke="#ffffff" stroke-opacity="0.22" stroke-width="0.6"/><rect x="383.63" y="325.79" width="11.73" height="11.73" fill="#f3877f" stroke="#ffffff" stroke-opacity="0.22" stroke-width="0.6"/><rect x="395.36" y="325.79" width="11.73" height="11.73" fill="#a3d1e8" stroke="#ffffff" stroke-opacity="0.22" stroke-width="0.6"/><rect x="407.09" y="325.79" width="11.73" height="11.73" fill="#a3d1e8" stroke="#ffffff" stroke-opacity="0.22" stroke-width="0.6"/><rect x="418.82" y="325.79" width="11.73" height="11.73" fill="#f3877f" stroke="#ffffff" stroke-opacity="0.22" stroke-width="0.6"/><rect x="383.63" y="337.52" width="11.73" height="11.73" fill="#f3877f" stroke="#ffffff" stroke-opacity="0.22" stroke-width="0.6"/><rect x="395.36" y="337.52" width="11.73" height="11.73" fill="#f3877f" stroke="#ffffff" stroke-opacity="0.22" stroke-width="0.6"/><rect x="407.09" y="337.52" width="11.73" height="11.73" fill="#a3d1e8" stroke="#ffffff" stroke-opacity="0.22" stroke-width="0.6"/><rect x="418.82" y="337.52" width="11.73" height="11.73" fill="#f3877f" stroke="#ffffff" stroke-opacity="0.22" stroke-width="0.6"/><rect x="430.55" y="337.52" width="11.73" height="11.73" fill="#f3877f" stroke="#ffffff" stroke-opacity="0.22" stroke-width="0.6"/><rect x="395.36" y="349.25" width="11.73" height="11.73" fill="#f3877f" stroke="#ffffff" stroke-opacity="0.22" stroke-width="0.6"/><rect x="407.09" y="349.25" width="11.73" height="11.73" fill="#a3d1e8" stroke="#ffffff" stroke-opacity="0.22" stroke-width="0.6"/><rect x="418.82" y="349.25" width="11.73" height="11.73" fill="#a3d1e8" stroke="#ffffff" stroke-opacity="0.22" stroke-width="0.6"/><rect x="430.55" y="349.25" width="11.73" height="11.73" fill="#a3d1e8" stroke="#ffffff" stroke-opacity="0.22" stroke-width="0.6"/><rect x="407.09" y="360.98" width="11.73" height="11.73" fill="#f3877f" stroke="#ffffff" stroke-opacity="0.22" stroke-width="0.6"/><rect x="418.82" y="360.98" width="11.73" height="11.73" fill="#a3d1e8" stroke="#ffffff" stroke-opacity="0.22" stroke-width="0.6"/><rect x="430.55" y="360.98" width="11.73" height="11.73" fill="#a3d1e8" stroke="#ffffff" stroke-opacity="0.22" stroke-width="0.6"/><rect x="418.82" y="372.71" width="11.73" height="11.73" fill="#d2001a" stroke="#ffffff" stroke-opacity="0.22" stroke-width="0.6"/><rect x="430.55" y="372.71" width="11.73" height="11.73" fill="#d2001a" stroke="#ffffff" stroke-opacity="0.22" stroke-width="0.6"/><rect x="418.82" y="278.87" width="11.73" height="11.73" fill="#f3877f" stroke="#ffffff" stroke-opacity="0.22" stroke-width="0.6"/><rect x="430.55" y="278.87" width="11.73" height="11.73" fill="#f3877f" stroke="#ffffff" stroke-opacity="0.22" stroke-width="0.6"/><rect x="442.28" y="278.87" width="11.73" height="11.73" fill="#f3877f" stroke="#ffffff" stroke-opacity="0.22" stroke-width="0.6"/><rect x="454.01" y="278.87" width="11.73" height="11.73" fill="#f3877f" stroke="#ffffff" stroke-opacity="0.22" stroke-width="0.6"/><rect x="430.55" y="290.60" width="11.73" height="11.73" fill="#f3877f" stroke="#ffffff" stroke-opacity="0.22" stroke-width="0.6"/><rect x="442.28" y="290.60" width="11.73" height="11.73" fill="#a3d1e8" stroke="#ffffff" stroke-opacity="0.22" stroke-width="0.6"/><rect x="454.01" y="290.60" width="11.73" height="11.73" fill="#d2001a" stroke="#ffffff" stroke-opacity="0.22" stroke-width="0.6"/><rect x="395.36" y="243.68" width="11.73" height="11.73" fill="#f3877f" stroke="#ffffff" stroke-opacity="0.22" stroke-width="0.6"/><rect x="407.09" y="243.68" width="11.73" height="11.73" fill="#f3877f" stroke="#ffffff" stroke-opacity="0.22" stroke-width="0.6"/><rect x="418.82" y="243.68" width="11.73" height="11.73" fill="#f3877f" stroke="#ffffff" stroke-opacity="0.22" stroke-width="0.6"/><rect x="430.55" y="243.68" width="11.73" height="11.73" fill="#1570bb" stroke="#ffffff" stroke-opacity="0.22" stroke-width="0.6"/><rect x="442.28" y="243.68" width="11.73" height="11.73" fill="#f3877f" stroke="#ffffff" stroke-opacity="0.22" stroke-width="0.6"/><rect x="454.01" y="243.68" width="11.73" height="11.73" fill="#a3d1e8" stroke="#ffffff" stroke-opacity="0.22" stroke-width="0.6"/><rect x="465.74" y="243.68" width="11.73" height="11.73" fill="#a3d1e8" stroke="#ffffff" stroke-opacity="0.22" stroke-width="0.6"/><rect x="407.09" y="255.41" width="11.73" height="11.73" fill="#a3d1e8" stroke="#ffffff" stroke-opacity="0.22" stroke-width="0.6"/><rect x="418.82" y="255.41" width="11.73" height="11.73" fill="#f3877f" stroke="#ffffff" stroke-opacity="0.22" stroke-width="0.6"/><rect x="430.55" y="255.41" width="11.73" height="11.73" fill="#f3877f" stroke="#ffffff" stroke-opacity="0.22" stroke-width="0.6"/><rect x="442.28" y="255.41" width="11.73" height="11.73" fill="#f3877f" stroke="#ffffff" stroke-opacity="0.22" stroke-width="0.6"/><rect x="454.01" y="255.41" width="11.73" height="11.73" fill="#1570bb" stroke="#ffffff" stroke-opacity="0.22" stroke-width="0.6"/><rect x="465.74" y="255.41" width="11.73" height="11.73" fill="#f3877f" stroke="#ffffff" stroke-opacity="0.22" stroke-width="0.6"/><rect x="430.55" y="196.76" width="11.73" height="11.73" fill="#a3d1e8" stroke="#ffffff" stroke-opacity="0.22" stroke-width="0.6"/><rect x="442.28" y="196.76" width="11.73" height="11.73" fill="#a3d1e8" stroke="#ffffff" stroke-opacity="0.22" stroke-width="0.6"/><rect x="418.82" y="208.49" width="11.73" height="11.73" fill="#f3877f" stroke="#ffffff" stroke-opacity="0.22" stroke-width="0.6"/><rect x="430.55" y="208.49" width="11.73" height="11.73" fill="#a3d1e8" stroke="#ffffff" stroke-opacity="0.22" stroke-width="0.6"/><rect x="442.28" y="208.49" width="11.73" height="11.73" fill="#f3877f" stroke="#ffffff" stroke-opacity="0.22" stroke-width="0.6"/><rect x="383.63" y="220.22" width="11.73" height="11.73" fill="#f3877f" stroke="#ffffff" stroke-opacity="0.22" stroke-width="0.6"/><rect x="395.36" y="220.22" width="11.73" height="11.73" fill="#f3877f" stroke="#ffffff" stroke-opacity="0.22" stroke-width="0.6"/><rect x="407.09" y="220.22" width="11.73" height="11.73" fill="#a3d1e8" stroke="#ffffff" stroke-opacity="0.22" stroke-width="0.6"/><rect x="418.82" y="220.22" width="11.73" height="11.73" fill="#a3d1e8" stroke="#ffffff" stroke-opacity="0.22" stroke-width="0.6"/><rect x="430.55" y="220.22" width="11.73" height="11.73" fill="#a3d1e8" stroke="#ffffff" stroke-opacity="0.22" stroke-width="0.6"/><rect x="442.28" y="220.22" width="11.73" height="11.73" fill="#a3d1e8" stroke="#ffffff" stroke-opacity="0.22" stroke-width="0.6"/><rect x="418.82" y="173.30" width="11.73" height="11.73" fill="#a3d1e8" stroke="#ffffff" stroke-opacity="0.22" stroke-width="0.6"/><rect x="430.55" y="173.30" width="11.73" height="11.73" fill="#a3d1e8" stroke="#ffffff" stroke-opacity="0.22" stroke-width="0.6"/><rect x="442.28" y="173.30" width="11.73" height="11.73" fill="#a3d1e8" stroke="#ffffff" stroke-opacity="0.22" stroke-width="0.6"/><rect x="454.01" y="173.30" width="11.73" height="11.73" fill="#a3d1e8" stroke="#ffffff" stroke-opacity="0.22" stroke-width="0.6"/><rect x="465.74" y="173.30" width="11.73" height="11.73" fill="#a3d1e8" stroke="#ffffff" stroke-opacity="0.22" stroke-width="0.6"/><rect x="465.74" y="185.03" width="11.73" height="11.73" fill="#a3d1e8" stroke="#ffffff" stroke-opacity="0.22" stroke-width="0.6"/><rect x="465.74" y="196.76" width="11.73" height="11.73" fill="#a3d1e8" stroke="#ffffff" stroke-opacity="0.22" stroke-width="0.6"/><rect x="465.74" y="208.49" width="11.73" height="11.73" fill="#f3877f" stroke="#ffffff" stroke-opacity="0.22" stroke-width="0.6"/><rect x="489.20" y="173.30" width="11.73" height="11.73" fill="#a3d1e8" stroke="#ffffff" stroke-opacity="0.22" stroke-width="0.6"/><rect x="407.09" y="126.38" width="11.73" height="11.73" fill="#f3877f" stroke="#ffffff" stroke-opacity="0.22" stroke-width="0.6"/><rect x="418.82" y="126.38" width="11.73" height="11.73" fill="#f3877f" stroke="#ffffff" stroke-opacity="0.22" stroke-width="0.6"/><rect x="430.55" y="126.38" width="11.73" height="11.73" fill="#f3877f" stroke="#ffffff" stroke-opacity="0.22" stroke-width="0.6"/><rect x="442.28" y="126.38" width="11.73" height="11.73" fill="#a3d1e8" stroke="#ffffff" stroke-opacity="0.22" stroke-width="0.6"/><rect x="454.01" y="126.38" width="11.73" height="11.73" fill="#a3d1e8" stroke="#ffffff" stroke-opacity="0.22" stroke-width="0.6"/><rect x="465.74" y="126.38" width="11.73" height="11.73" fill="#f3877f" stroke="#ffffff" stroke-opacity="0.22" stroke-width="0.6"/><rect x="407.09" y="138.11" width="11.73" height="11.73" fill="#a3d1e8" stroke="#ffffff" stroke-opacity="0.22" stroke-width="0.6"/><rect x="418.82" y="138.11" width="11.73" height="11.73" fill="#a3d1e8" stroke="#ffffff" stroke-opacity="0.22" stroke-width="0.6"/><rect x="430.55" y="138.11" width="11.73" height="11.73" fill="#f3877f" stroke="#ffffff" stroke-opacity="0.22" stroke-width="0.6"/><rect x="442.28" y="138.11" width="11.73" height="11.73" fill="#f3877f" stroke="#ffffff" stroke-opacity="0.22" stroke-width="0.6"/><rect x="454.01" y="138.11" width="11.73" height="11.73" fill="#a3d1e8" stroke="#ffffff" stroke-opacity="0.22" stroke-width="0.6"/><rect x="465.74" y="138.11" width="11.73" height="11.73" fill="#a3d1e8" stroke="#ffffff" stroke-opacity="0.22" stroke-width="0.6"/><rect x="407.09" y="149.84" width="11.73" height="11.73" fill="#f3877f" stroke="#ffffff" stroke-opacity="0.22" stroke-width="0.6"/><rect x="418.82" y="149.84" width="11.73" height="11.73" fill="#f3877f" stroke="#ffffff" stroke-opacity="0.22" stroke-width="0.6"/><rect x="430.55" y="149.84" width="11.73" height="11.73" fill="#f3877f" stroke="#ffffff" stroke-opacity="0.22" stroke-width="0.6"/><rect x="442.28" y="149.84" width="11.73" height="11.73" fill="#a3d1e8" stroke="#ffffff" stroke-opacity="0.22" stroke-width="0.6"/><rect x="454.01" y="149.84" width="11.73" height="11.73" fill="#a3d1e8" stroke="#ffffff" stroke-opacity="0.22" stroke-width="0.6"/><rect x="465.74" y="149.84" width="11.73" height="11.73" fill="#a3d1e8" stroke="#ffffff" stroke-opacity="0.22" stroke-width="0.6"/><rect x="500.93" y="138.11" width="11.73" height="11.73" fill="#a3d1e8" stroke="#ffffff" stroke-opacity="0.22" stroke-width="0.6"/><rect x="512.66" y="138.11" width="11.73" height="11.73" fill="#a3d1e8" stroke="#ffffff" stroke-opacity="0.22" stroke-width="0.6"/><rect x="524.39" y="138.11" width="11.73" height="11.73" fill="#a3d1e8" stroke="#ffffff" stroke-opacity="0.22" stroke-width="0.6"/><rect x="500.93" y="149.84" width="11.73" height="11.73" fill="#a3d1e8" stroke="#ffffff" stroke-opacity="0.22" stroke-width="0.6"/><rect x="512.66" y="149.84" width="11.73" height="11.73" fill="#a3d1e8" stroke="#ffffff" stroke-opacity="0.22" stroke-width="0.6"/><rect x="524.39" y="149.84" width="11.73" height="11.73" fill="#a3d1e8" stroke="#ffffff" stroke-opacity="0.22" stroke-width="0.6"/><rect x="512.66" y="161.57" width="11.73" height="11.73" fill="#a3d1e8" stroke="#ffffff" stroke-opacity="0.22" stroke-width="0.6"/><rect x="524.39" y="161.57" width="11.73" height="11.73" fill="#a3d1e8" stroke="#ffffff" stroke-opacity="0.22" stroke-width="0.6"/><rect x="512.66" y="173.30" width="11.73" height="11.73" fill="#a3d1e8" stroke="#ffffff" stroke-opacity="0.22" stroke-width="0.6"/><rect x="524.39" y="173.30" width="11.73" height="11.73" fill="#f3877f" stroke="#ffffff" stroke-opacity="0.22" stroke-width="0.6"/><rect x="512.66" y="185.03" width="11.73" height="11.73" fill="#a3d1e8" stroke="#ffffff" stroke-opacity="0.22" stroke-width="0.6"/><rect x="524.39" y="185.03" width="11.73" height="11.73" fill="#f3877f" stroke="#ffffff" stroke-opacity="0.22" stroke-width="0.6"/><rect x="465.74" y="56.00" width="11.73" height="11.73" fill="#f3877f" stroke="#ffffff" stroke-opacity="0.22" stroke-width="0.6"/><rect x="477.47" y="56.00" width="11.73" height="11.73" fill="#f3877f" stroke="#ffffff" stroke-opacity="0.22" stroke-width="0.6"/><rect x="489.20" y="56.00" width="11.73" height="11.73" fill="#a3d1e8" stroke="#ffffff" stroke-opacity="0.22" stroke-width="0.6"/><rect x="454.01" y="67.73" width="11.73" height="11.73" fill="#a3d1e8" stroke="#ffffff" stroke-opacity="0.22" stroke-width="0.6"/><rect x="465.74" y="67.73" width="11.73" height="11.73" fill="#f3877f" stroke="#ffffff" stroke-opacity="0.22" stroke-width="0.6"/><rect x="477.47" y="67.73" width="11.73" height="11.73" fill="#d2001a" stroke="#ffffff" stroke-opacity="0.22" stroke-width="0.6"/><rect x="489.20" y="67.73" width="11.73" height="11.73" fill="#a3d1e8" stroke="#ffffff" stroke-opacity="0.22" stroke-width="0.6"/><rect x="442.28" y="79.46" width="11.73" height="11.73" fill="#a3d1e8" stroke="#ffffff" stroke-opacity="0.22" stroke-width="0.6"/><rect x="454.01" y="79.46" width="11.73" height="11.73" fill="#f3877f" stroke="#ffffff" stroke-opacity="0.22" stroke-width="0.6"/><rect x="465.74" y="79.46" width="11.73" height="11.73" fill="#a3d1e8" stroke="#ffffff" stroke-opacity="0.22" stroke-width="0.6"/><rect x="477.47" y="79.46" width="11.73" height="11.73" fill="#a3d1e8" stroke="#ffffff" stroke-opacity="0.22" stroke-width="0.6"/><rect x="489.20" y="79.46" width="11.73" height="11.73" fill="#a3d1e8" stroke="#ffffff" stroke-opacity="0.22" stroke-width="0.6"/><rect x="430.55" y="91.19" width="11.73" height="11.73" fill="#a3d1e8" stroke="#ffffff" stroke-opacity="0.22" stroke-width="0.6"/><rect x="442.28" y="91.19" width="11.73" height="11.73" fill="#a3d1e8" stroke="#ffffff" stroke-opacity="0.22" stroke-width="0.6"/><rect x="454.01" y="91.19" width="11.73" height="11.73" fill="#a3d1e8" stroke="#ffffff" stroke-opacity="0.22" stroke-width="0.6"/><rect x="465.74" y="91.19" width="11.73" height="11.73" fill="#a3d1e8" stroke="#ffffff" stroke-opacity="0.22" stroke-width="0.6"/><rect x="477.47" y="91.19" width="11.73" height="11.73" fill="#a3d1e8" stroke="#ffffff" stroke-opacity="0.22" stroke-width="0.6"/><rect x="489.20" y="91.19" width="11.73" height="11.73" fill="#a3d1e8" stroke="#ffffff" stroke-opacity="0.22" stroke-width="0.6"/><rect x="418.82" y="102.92" width="11.73" height="11.73" fill="#d2001a" stroke="#ffffff" stroke-opacity="0.22" stroke-width="0.6"/><rect x="430.55" y="102.92" width="11.73" height="11.73" fill="#a3d1e8" stroke="#ffffff" stroke-opacity="0.22" stroke-width="0.6"/><rect x="442.28" y="102.92" width="11.73" height="11.73" fill="#a3d1e8" stroke="#ffffff" stroke-opacity="0.22" stroke-width="0.6"/><rect x="454.01" y="102.92" width="11.73" height="11.73" fill="#a3d1e8" stroke="#ffffff" stroke-opacity="0.22" stroke-width="0.6"/><rect x="465.74" y="102.92" width="11.73" height="11.73" fill="#a3d1e8" stroke="#ffffff" stroke-opacity="0.22" stroke-width="0.6"/><rect x="477.47" y="102.92" width="11.73" height="11.73" fill="#a3d1e8" stroke="#ffffff" stroke-opacity="0.22" stroke-width="0.6"/><rect x="489.20" y="102.92" width="11.73" height="11.73" fill="#a3d1e8" stroke="#ffffff" stroke-opacity="0.22" stroke-width="0.6"/><rect x="489.20" y="114.65" width="11.73" height="11.73" fill="#f3877f" stroke="#ffffff" stroke-opacity="0.22" stroke-width="0.6"/><rect x="500.93" y="114.65" width="11.73" height="11.73" fill="#f3877f" stroke="#ffffff" stroke-opacity="0.22" stroke-width="0.6"/><rect x="500.93" y="32.54" width="11.73" height="11.73" fill="#a3d1e8" stroke="#ffffff" stroke-opacity="0.22" stroke-width="0.6"/><rect x="524.39" y="20.81" width="11.73" height="11.73" fill="#a3d1e8" stroke="#ffffff" stroke-opacity="0.22" stroke-width="0.6"/><rect x="524.39" y="32.54" width="11.73" height="11.73" fill="#a3d1e8" stroke="#ffffff" stroke-opacity="0.22" stroke-width="0.6"/><rect x="547.85" y="20.81" width="11.73" height="11.73" fill="#a3d1e8" stroke="#ffffff" stroke-opacity="0.22" stroke-width="0.6"/><rect x="547.85" y="32.54" width="11.73" height="11.73" fill="#a3d1e8" stroke="#ffffff" stroke-opacity="0.22" stroke-width="0.6"/><rect x="512.66" y="56.00" width="11.73" height="11.73" fill="#a3d1e8" stroke="#ffffff" stroke-opacity="0.22" stroke-width="0.6"/><rect x="524.39" y="56.00" width="11.73" height="11.73" fill="#a3d1e8" stroke="#ffffff" stroke-opacity="0.22" stroke-width="0.6"/><rect x="536.12" y="56.00" width="11.73" height="11.73" fill="#a3d1e8" stroke="#ffffff" stroke-opacity="0.22" stroke-width="0.6"/><rect x="547.85" y="56.00" width="11.73" height="11.73" fill="#a3d1e8" stroke="#ffffff" stroke-opacity="0.22" stroke-width="0.6"/><rect x="512.66" y="67.73" width="11.73" height="11.73" fill="#a3d1e8" stroke="#ffffff" stroke-opacity="0.22" stroke-width="0.6"/><rect x="524.39" y="67.73" width="11.73" height="11.73" fill="#a3d1e8" stroke="#ffffff" stroke-opacity="0.22" stroke-width="0.6"/><rect x="536.12" y="67.73" width="11.73" height="11.73" fill="#a3d1e8" stroke="#ffffff" stroke-opacity="0.22" stroke-width="0.6"/><rect x="547.85" y="67.73" width="11.73" height="11.73" fill="#a3d1e8" stroke="#ffffff" stroke-opacity="0.22" stroke-width="0.6"/><rect x="559.58" y="67.73" width="11.73" height="11.73" fill="#a3d1e8" stroke="#ffffff" stroke-opacity="0.22" stroke-width="0.6"/><rect x="512.66" y="91.19" width="11.73" height="11.73" fill="#a3d1e8" stroke="#ffffff" stroke-opacity="0.22" stroke-width="0.6"/><rect x="524.39" y="91.19" width="11.73" height="11.73" fill="#a3d1e8" stroke="#ffffff" stroke-opacity="0.22" stroke-width="0.6"/><rect x="536.12" y="91.19" width="11.73" height="11.73" fill="#a3d1e8" stroke="#ffffff" stroke-opacity="0.22" stroke-width="0.6"/><rect x="524.39" y="102.92" width="11.73" height="11.73" fill="#a3d1e8" stroke="#ffffff" stroke-opacity="0.22" stroke-width="0.6"/><rect x="536.12" y="102.92" width="11.73" height="11.73" fill="#a3d1e8" stroke="#ffffff" stroke-opacity="0.22" stroke-width="0.6"/><rect x="559.58" y="91.19" width="11.73" height="11.73" fill="#a3d1e8" stroke="#ffffff" stroke-opacity="0.22" stroke-width="0.6"/><rect x="559.58" y="102.92" width="11.73" height="11.73" fill="#a3d1e8" stroke="#ffffff" stroke-opacity="0.22" stroke-width="0.6"/><rect x="149.03" y="360.98" width="11.73" height="11.73" fill="#a3d1e8" stroke="#ffffff" stroke-opacity="0.22" stroke-width="0.6"/><rect x="160.76" y="360.98" width="11.73" height="11.73" fill="#a3d1e8" stroke="#ffffff" stroke-opacity="0.22" stroke-width="0.6"/><rect x="43.46" y="360.98" width="11.73" height="11.73" fill="#f3877f" stroke="#ffffff" stroke-opacity="0.22" stroke-width="0.6"/><rect x="117.80" y="91.60" width="11.73" height="11.73" fill="#f3877f"/><rect x="117.80" y="114.90" width="11.73" height="11.73" fill="#f3877f"/></g>
<g font-family='"Liberation Sans", sans-serif' stroke="#111" stroke-width="0.2" text-rendering="geometricPrecision"><text transform="translate(49.33 65.87) scale(0.94 1)" font-size="9.9" text-anchor="middle" fill="#111">2</text><text transform="translate(61.05 65.87) scale(0.94 1)" font-size="9.9" text-anchor="middle" fill="#111">1</text><text transform="translate(25.87 77.59) scale(0.94 1)" font-size="9.9" text-anchor="middle" fill="#111">6</text><text transform="translate(37.59 77.59) scale(0.94 1)" font-size="9.9" text-anchor="middle" fill="#111">7</text><text transform="translate(49.33 77.59) scale(0.94 1)" font-size="9.9" text-anchor="middle" fill="#111">9</text><text transform="translate(61.05 77.59) scale(0.94 1)" font-size="9.9" text-anchor="middle" fill="#111">8</text><text transform="translate(25.87 89.33) scale(0.94 1)" font-size="9.9" text-anchor="middle" fill="#111">3</text><text transform="translate(37.59 89.33) scale(0.94 1)" font-size="9.9" text-anchor="middle" fill="#111">10</text><text transform="translate(49.33 89.33) scale(0.94 1)" font-size="9.9" text-anchor="middle" fill="#111">4</text><text transform="translate(61.05 89.33) scale(0.94 1)" font-size="9.9" text-anchor="middle" fill="#111">5</text><text transform="translate(25.87 112.78) scale(0.94 1)" font-size="9.9" text-anchor="middle" fill="#111">1</text><text transform="translate(37.59 112.78) scale(0.94 1)" font-size="9.9" text-anchor="middle" fill="#111">3</text><text transform="translate(25.87 124.52) scale(0.94 1)" font-size="9.9" text-anchor="middle" fill="#111">5</text><text transform="translate(37.59 124.52) scale(0.94 1)" font-size="9.9" text-anchor="middle" fill="#111">4</text><text transform="translate(49.33 124.52) scale(0.94 1)" font-size="9.9" text-anchor="middle" fill="#111">2</text><text transform="translate(72.78 112.78) scale(0.94 1)" font-size="9.9" text-anchor="middle" fill="#111">1</text><text transform="translate(72.78 124.52) scale(0.94 1)" font-size="9.9" text-anchor="middle" fill="#111">2</text><text transform="translate(25.87 147.98) scale(0.94 1)" font-size="9.9" text-anchor="middle" fill="#111">2</text><text transform="translate(37.59 147.98) scale(0.94 1)" font-size="9.9" text-anchor="middle" fill="#111">3</text><text transform="translate(49.33 147.98) scale(0.94 1)" font-size="9.9" text-anchor="middle" fill="#111">1</text><text transform="translate(25.87 159.71) scale(0.94 1)" font-size="9.9" text-anchor="middle" fill="#111">12</text><text transform="translate(37.59 159.71) scale(0.94 1)" font-size="9.9" text-anchor="middle" fill="#111">6</text><text transform="translate(49.33 159.71) scale(0.94 1)" font-size="9.9" text-anchor="middle" fill="#111">7</text><text transform="translate(25.87 171.44) scale(0.94 1)" font-size="9.9" text-anchor="middle" fill="#111">13</text><text transform="translate(37.59 171.44) scale(0.94 1)" font-size="9.9" text-anchor="middle" fill="#111">5</text><text transform="translate(49.33 171.44) scale(0.94 1)" font-size="9.9" text-anchor="middle" fill="#111">11</text><text transform="translate(25.87 183.17) scale(0.94 1)" font-size="9.9" text-anchor="middle" fill="#111">14</text><text transform="translate(37.59 183.17) scale(0.94 1)" font-size="9.9" text-anchor="middle" fill="#111">17</text><text transform="translate(49.33 183.17) scale(0.94 1)" font-size="9.9" text-anchor="middle" fill="#111">15</text><text transform="translate(25.87 194.90) scale(0.94 1)" font-size="9.9" text-anchor="middle" fill="#111">18</text><text transform="translate(37.59 194.90) scale(0.94 1)" font-size="9.9" text-anchor="middle" fill="#111">19</text><text transform="translate(49.33 194.90) scale(0.94 1)" font-size="9.9" text-anchor="middle" fill="#111">10</text><text transform="translate(61.05 194.90) scale(0.94 1)" font-size="9.9" text-anchor="middle" fill="#111">9</text><text transform="translate(25.87 206.62) scale(0.94 1)" font-size="9.9" text-anchor="middle" fill="#111">20</text><text transform="translate(37.59 206.62) scale(0.94 1)" font-size="9.9" text-anchor="middle" fill="#111">16</text><text transform="translate(49.33 206.62) scale(0.94 1)" font-size="9.9" text-anchor="middle" fill="#111">22</text><text transform="translate(61.05 206.62) scale(0.94 1)" font-size="9.9" text-anchor="middle" fill="#111">4</text><text transform="translate(25.87 218.36) scale(0.94 1)" font-size="9.9" text-anchor="middle" fill="#111">26</text><text transform="translate(37.59 218.36) scale(0.94 1)" font-size="9.9" text-anchor="middle" fill="#111">24</text><text transform="translate(49.33 218.36) scale(0.94 1)" font-size="9.9" text-anchor="middle" fill="#111">21</text><text transform="translate(61.05 218.36) scale(0.94 1)" font-size="9.9" text-anchor="middle" fill="#111">23</text><text transform="translate(72.78 218.36) scale(0.94 1)" font-size="9.9" text-anchor="middle" fill="#111">8</text><text transform="translate(37.59 230.09) scale(0.94 1)" font-size="9.9" text-anchor="middle" fill="#111">33</text><text transform="translate(49.33 230.09) scale(0.94 1)" font-size="9.9" text-anchor="middle" fill="#111">37</text><text transform="translate(61.05 230.09) scale(0.94 1)" font-size="9.9" text-anchor="middle" fill="#111">30</text><text transform="translate(72.78 230.09) scale(0.94 1)" font-size="9.9" text-anchor="middle" fill="#111">29</text><text transform="translate(84.52 230.09) scale(0.94 1)" font-size="9.9" text-anchor="middle" fill="#111">25</text><text transform="translate(49.33 241.82) scale(0.94 1)" font-size="9.9" text-anchor="middle" fill="#111">44</text><text transform="translate(61.05 241.82) scale(0.94 1)" font-size="9.9" text-anchor="middle" fill="#111">43</text><text transform="translate(72.78 241.82) scale(0.94 1)" font-size="9.9" text-anchor="middle" fill="#111">40</text><text transform="translate(84.52 241.82) scale(0.94 1)" font-size="9.9" text-anchor="middle" fill="#111">34</text><text transform="translate(96.24 241.82) scale(0.94 1)" font-size="9.9" text-anchor="middle" fill="#111">28</text><text transform="translate(49.33 253.55) scale(0.94 1)" font-size="9.9" text-anchor="middle" fill="#111">47</text><text transform="translate(61.05 253.55) scale(0.94 1)" font-size="9.9" text-anchor="middle" fill="#111">46</text><text transform="translate(72.78 253.55) scale(0.94 1)" font-size="9.9" text-anchor="middle" fill="#111">38</text><text transform="translate(84.52 253.55) scale(0.94 1)" font-size="9.9" text-anchor="middle" fill="#111">32</text><text transform="translate(96.24 253.55) scale(0.94 1)" font-size="9.9" text-anchor="middle" fill="#111">27</text><text transform="translate(107.97 253.55) scale(0.94 1)" font-size="9.9" text-anchor="middle" fill="#111">31</text><text transform="translate(61.05 265.27) scale(0.94 1)" font-size="9.9" text-anchor="middle" fill="#111">48</text><text transform="translate(72.78 265.27) scale(0.94 1)" font-size="9.9" text-anchor="middle" fill="#111">45</text><text transform="translate(84.52 265.27) scale(0.94 1)" font-size="9.9" text-anchor="middle" fill="#111">39</text><text transform="translate(96.24 265.27) scale(0.94 1)" font-size="9.9" text-anchor="middle" fill="#111">35</text><text transform="translate(107.97 265.27) scale(0.94 1)" font-size="9.9" text-anchor="middle" fill="#111">41</text><text transform="translate(72.78 277.00) scale(0.94 1)" font-size="9.9" text-anchor="middle" fill="#111">52</text><text transform="translate(84.52 277.00) scale(0.94 1)" font-size="9.9" text-anchor="middle" fill="#111">49</text><text transform="translate(96.24 277.00) scale(0.94 1)" font-size="9.9" text-anchor="middle" fill="#111">42</text><text transform="translate(107.97 277.00) scale(0.94 1)" font-size="9.9" text-anchor="middle" fill="#111">36</text><text transform="translate(84.52 288.74) scale(0.94 1)" font-size="9.9" text-anchor="middle" fill="#111">53</text><text transform="translate(96.24 288.74) scale(0.94 1)" font-size="9.9" text-anchor="middle" fill="#111">50</text><text transform="translate(107.97 288.74) scale(0.94 1)" font-size="9.9" text-anchor="middle" fill="#111">51</text><text transform="translate(72.78 147.98) scale(0.94 1)" font-size="9.9" text-anchor="middle" fill="#111">2</text><text transform="translate(84.52 147.98) scale(0.94 1)" font-size="9.9" text-anchor="middle" fill="#111">4</text><text transform="translate(72.78 159.71) scale(0.94 1)" font-size="9.9" text-anchor="middle" fill="#111">1</text><text transform="translate(84.52 159.71) scale(0.94 1)" font-size="9.9" text-anchor="middle" fill="#111">3</text><text transform="translate(107.97 147.98) scale(0.94 1)" font-size="9.9" text-anchor="middle" fill="#111">1</text><text transform="translate(119.70 147.98) scale(0.94 1)" font-size="9.9" text-anchor="middle" fill="#111">4</text><text transform="translate(107.97 159.71) scale(0.94 1)" font-size="9.9" text-anchor="middle" fill="#111">2</text><text transform="translate(119.70 159.71) scale(0.94 1)" font-size="9.9" text-anchor="middle" fill="#111">3</text><text transform="translate(166.62 136.25) scale(0.94 1)" font-size="9.9" text-anchor="middle" fill="#111">1</text><text transform="translate(143.17 147.98) scale(0.94 1)" font-size="9.9" text-anchor="middle" fill="#111">2</text><text transform="translate(154.90 147.98) scale(0.94 1)" font-size="9.9" text-anchor="middle" fill="#111">7</text><text transform="translate(166.62 147.98) scale(0.94 1)" font-size="9.9" text-anchor="middle" fill="#111">6</text><text transform="translate(143.17 159.71) scale(0.94 1)" font-size="9.9" text-anchor="middle" fill="#111">3</text><text transform="translate(154.90 159.71) scale(0.94 1)" font-size="9.9" text-anchor="middle" fill="#111">5</text><text transform="translate(166.62 159.71) scale(0.94 1)" font-size="9.9" text-anchor="middle" fill="#111">4</text><text transform="translate(96.24 183.17) scale(0.94 1)" font-size="9.9" text-anchor="middle" fill="#111">4</text><text transform="translate(107.97 183.17) scale(0.94 1)" font-size="9.9" text-anchor="middle" fill="#111">8</text><text transform="translate(119.70 183.17) scale(0.94 1)" font-size="9.9" text-anchor="middle" fill="#111">1</text><text transform="translate(96.24 194.90) scale(0.94 1)" font-size="9.9" text-anchor="middle" fill="#111">7</text><text transform="translate(107.97 194.90) scale(0.94 1)" font-size="9.9" text-anchor="middle" fill="#111">6</text><text transform="translate(119.70 194.90) scale(0.94 1)" font-size="9.9" text-anchor="middle" fill="#111">5</text><text transform="translate(96.24 206.62) scale(0.94 1)" font-size="9.9" text-anchor="middle" fill="#111">3</text><text transform="translate(107.97 206.62) scale(0.94 1)" font-size="9.9" text-anchor="middle" fill="#111">9</text><text transform="translate(119.70 206.62) scale(0.94 1)" font-size="9.9" text-anchor="middle" fill="#111">2</text><text transform="translate(143.17 183.17) scale(0.94 1)" font-size="9.9" text-anchor="middle" fill="#111">3</text><text transform="translate(143.17 194.90) scale(0.94 1)" font-size="9.9" text-anchor="middle" fill="#111">1</text><text transform="translate(143.17 206.62) scale(0.94 1)" font-size="9.9" text-anchor="middle" fill="#111">2</text><text x="190.39" y="88.62" font-size="8.4" text-anchor="middle" textLength="9.4" lengthAdjust="spacingAndGlyphs" fill="#111">AL</text><text x="190.39" y="112.08" font-size="8.4" text-anchor="middle" textLength="9.4" lengthAdjust="spacingAndGlyphs" fill="#111">AL</text><text transform="translate(190.09 147.98) scale(0.94 1)" font-size="9.9" text-anchor="middle" fill="#111">3</text><text transform="translate(201.82 147.98) scale(0.94 1)" font-size="9.9" text-anchor="middle" fill="#111">1</text><text transform="translate(213.55 147.98) scale(0.94 1)" font-size="9.9" text-anchor="middle" fill="#111">2</text><text transform="translate(190.09 171.44) scale(0.94 1)" font-size="9.9" text-anchor="middle" fill="#111">1</text><text transform="translate(201.82 171.44) scale(0.94 1)" font-size="9.9" text-anchor="middle" fill="#111">3</text><text transform="translate(190.09 183.17) scale(0.94 1)" font-size="9.9" text-anchor="middle" fill="#111">4</text><text transform="translate(201.82 183.17) scale(0.94 1)" font-size="9.9" text-anchor="middle" fill="#111">2</text><text transform="translate(178.36 206.62) scale(0.94 1)" font-size="9.9" text-anchor="middle" fill="#111">3</text><text transform="translate(190.09 206.62) scale(0.94 1)" font-size="9.9" text-anchor="middle" fill="#111">1</text><text transform="translate(201.82 206.62) scale(0.94 1)" font-size="9.9" text-anchor="middle" fill="#111">2</text><text transform="translate(190.09 218.36) scale(0.94 1)" font-size="9.9" text-anchor="middle" fill="#111">4</text><text transform="translate(201.82 218.36) scale(0.94 1)" font-size="9.9" text-anchor="middle" fill="#111">5</text><text transform="translate(154.90 230.09) scale(0.94 1)" font-size="9.9" text-anchor="middle" fill="#111">19</text><text transform="translate(166.62 230.09) scale(0.94 1)" font-size="9.9" text-anchor="middle" fill="#111">13</text><text transform="translate(154.90 241.82) scale(0.94 1)" font-size="9.9" text-anchor="middle" fill="#111">11</text><text transform="translate(166.62 241.82) scale(0.94 1)" font-size="9.9" text-anchor="middle" fill="#111">26</text><text transform="translate(178.36 241.82) scale(0.94 1)" font-size="9.9" text-anchor="middle" fill="#111">24</text><text transform="translate(190.09 241.82) scale(0.94 1)" font-size="9.9" text-anchor="middle" fill="#111">32</text><text transform="translate(201.82 241.82) scale(0.94 1)" font-size="9.9" text-anchor="middle" fill="#111">3</text><text transform="translate(213.55 241.82) scale(0.94 1)" font-size="9.9" text-anchor="middle" fill="#111">4</text><text transform="translate(131.44 253.55) scale(0.94 1)" font-size="9.9" text-anchor="middle" fill="#111">16</text><text transform="translate(143.17 253.55) scale(0.94 1)" font-size="9.9" text-anchor="middle" fill="#111">23</text><text transform="translate(154.90 253.55) scale(0.94 1)" font-size="9.9" text-anchor="middle" fill="#111">12</text><text transform="translate(166.62 253.55) scale(0.94 1)" font-size="9.9" text-anchor="middle" fill="#111">6</text><text transform="translate(178.36 253.55) scale(0.94 1)" font-size="9.9" text-anchor="middle" fill="#111">33</text><text transform="translate(190.09 253.55) scale(0.94 1)" font-size="9.9" text-anchor="middle" fill="#111">30</text><text transform="translate(201.82 253.55) scale(0.94 1)" font-size="9.9" text-anchor="middle" fill="#111">5</text><text transform="translate(213.55 253.55) scale(0.94 1)" font-size="9.9" text-anchor="middle" fill="#111">1</text><text transform="translate(143.17 265.27) scale(0.94 1)" font-size="9.9" text-anchor="middle" fill="#111">21</text><text transform="translate(154.90 265.27) scale(0.94 1)" font-size="9.9" text-anchor="middle" fill="#111">31</text><text transform="translate(166.62 265.27) scale(0.94 1)" font-size="9.9" text-anchor="middle" fill="#111">17</text><text transform="translate(178.36 265.27) scale(0.94 1)" font-size="9.9" text-anchor="middle" fill="#111">18</text><text transform="translate(190.09 265.27) scale(0.94 1)" font-size="9.9" text-anchor="middle" fill="#111">2</text><text transform="translate(201.82 265.27) scale(0.94 1)" font-size="9.9" text-anchor="middle" fill="#111">8</text><text transform="translate(213.55 265.27) scale(0.94 1)" font-size="9.9" text-anchor="middle" fill="#111">36</text><text transform="translate(143.17 277.00) scale(0.94 1)" font-size="9.9" text-anchor="middle" fill="#111">20</text><text transform="translate(154.90 277.00) scale(0.94 1)" font-size="9.9" text-anchor="middle" fill="#111">25</text><text transform="translate(166.62 277.00) scale(0.94 1)" font-size="9.9" text-anchor="middle" fill="#111">7</text><text transform="translate(178.36 277.00) scale(0.94 1)" font-size="9.9" text-anchor="middle" fill="#111">9</text><text transform="translate(190.09 277.00) scale(0.94 1)" font-size="9.9" text-anchor="middle" fill="#111">29</text><text transform="translate(201.82 277.00) scale(0.94 1)" font-size="9.9" text-anchor="middle" fill="#111">14</text><text transform="translate(154.90 288.74) scale(0.94 1)" font-size="9.9" text-anchor="middle" fill="#111">35</text><text transform="translate(166.62 288.74) scale(0.94 1)" font-size="9.9" text-anchor="middle" fill="#111">22</text><text transform="translate(178.36 288.74) scale(0.94 1)" font-size="9.9" text-anchor="middle" fill="#111">10</text><text transform="translate(190.09 288.74) scale(0.94 1)" font-size="9.9" text-anchor="middle" fill="#111">27</text><text transform="translate(166.62 300.47) scale(0.94 1)" font-size="9.9" text-anchor="middle" fill="#111">28</text><text transform="translate(178.36 300.47) scale(0.94 1)" font-size="9.9" text-anchor="middle" fill="#111">15</text><text transform="translate(178.36 312.20) scale(0.94 1)" font-size="9.9" text-anchor="middle" fill="#111">34</text><text transform="translate(237.01 101.05) scale(0.94 1)" font-size="9.9" text-anchor="middle" fill="#111">7</text><text transform="translate(248.74 101.05) scale(0.94 1)" font-size="9.9" text-anchor="middle" fill="#111">8</text><text transform="translate(237.01 112.78) scale(0.94 1)" font-size="9.9" text-anchor="middle" fill="#111">6</text><text transform="translate(248.74 112.78) scale(0.94 1)" font-size="9.9" text-anchor="middle" fill="#111">3</text><text transform="translate(237.01 124.52) scale(0.94 1)" font-size="9.9" text-anchor="middle" fill="#111">5</text><text transform="translate(248.74 124.52) scale(0.94 1)" font-size="9.9" text-anchor="middle" fill="#111">4</text><text transform="translate(237.01 136.25) scale(0.94 1)" font-size="9.9" text-anchor="middle" fill="#111">1</text><text transform="translate(248.74 136.25) scale(0.94 1)" font-size="9.9" text-anchor="middle" fill="#111">2</text><text transform="translate(237.01 159.71) scale(0.94 1)" font-size="9.9" text-anchor="middle" fill="#111">4</text><text transform="translate(248.74 159.71) scale(0.94 1)" font-size="9.9" text-anchor="middle" fill="#111">1</text><text transform="translate(237.01 171.44) scale(0.94 1)" font-size="9.9" text-anchor="middle" fill="#111">3</text><text transform="translate(248.74 171.44) scale(0.94 1)" font-size="9.9" text-anchor="middle" fill="#111">2</text><text transform="translate(237.01 194.90) scale(0.94 1)" font-size="9.9" text-anchor="middle" fill="#111">5</text><text transform="translate(248.74 194.90) scale(0.94 1)" font-size="9.9" text-anchor="middle" fill="#111">6</text><text transform="translate(237.01 206.62) scale(0.94 1)" font-size="9.9" text-anchor="middle" fill="#111">2</text><text transform="translate(248.74 206.62) scale(0.94 1)" font-size="9.9" text-anchor="middle" fill="#111">3</text><text transform="translate(260.47 206.62) scale(0.94 1)" font-size="9.9" text-anchor="middle" fill="#111">1</text><text transform="translate(237.01 218.36) scale(0.94 1)" font-size="9.9" text-anchor="middle" fill="#111">7</text><text transform="translate(248.74 218.36) scale(0.94 1)" font-size="9.9" text-anchor="middle" fill="#111">4</text><text transform="translate(260.47 218.36) scale(0.94 1)" font-size="9.9" text-anchor="middle" fill="#111">8</text><text transform="translate(237.01 241.82) scale(0.94 1)" font-size="9.9" text-anchor="middle" fill="#111">3</text><text transform="translate(248.74 241.82) scale(0.94 1)" font-size="9.9" text-anchor="middle" fill="#111">1</text><text transform="translate(237.01 253.55) scale(0.94 1)" font-size="9.9" text-anchor="middle" fill="#111">4</text><text transform="translate(248.74 253.55) scale(0.94 1)" font-size="9.9" text-anchor="middle" fill="#111">2</text><text transform="translate(237.01 277.00) scale(0.94 1)" font-size="9.9" text-anchor="middle" fill="#111">4</text><text transform="translate(237.01 288.74) scale(0.94 1)" font-size="9.9" text-anchor="middle" fill="#111">5</text><text transform="translate(248.74 288.74) scale(0.94 1)" font-size="9.9" text-anchor="middle" fill="#111">6</text><text transform="translate(237.01 300.47) scale(0.94 1)" font-size="9.9" text-anchor="middle" fill="#111">3</text><text transform="translate(248.74 300.47) scale(0.94 1)" font-size="9.9" text-anchor="middle" fill="#111">2</text><text transform="translate(260.47 300.47) scale(0.94 1)" font-size="9.9" text-anchor="middle" fill="#111">1</text><text transform="translate(272.20 101.05) scale(0.94 1)" font-size="9.9" text-anchor="middle" fill="#111">7</text><text transform="translate(283.93 101.05) scale(0.94 1)" font-size="9.9" text-anchor="middle" fill="#111">8</text><text transform="translate(272.20 112.78) scale(0.94 1)" font-size="9.9" text-anchor="middle" fill="#111">6</text><text transform="translate(283.93 112.78) scale(0.94 1)" font-size="9.9" text-anchor="middle" fill="#111">5</text><text transform="translate(295.66 112.78) scale(0.94 1)" font-size="9.9" text-anchor="middle" fill="#111">4</text><text transform="translate(272.20 124.52) scale(0.94 1)" font-size="9.9" text-anchor="middle" fill="#111">3</text><text transform="translate(283.93 124.52) scale(0.94 1)" font-size="9.9" text-anchor="middle" fill="#111">2</text><text transform="translate(295.66 124.52) scale(0.94 1)" font-size="9.9" text-anchor="middle" fill="#111">1</text><text transform="translate(272.20 147.98) scale(0.94 1)" font-size="9.9" text-anchor="middle" fill="#111">6</text><text transform="translate(283.93 147.98) scale(0.94 1)" font-size="9.9" text-anchor="middle" fill="#111">10</text><text transform="translate(295.66 147.98) scale(0.94 1)" font-size="9.9" text-anchor="middle" fill="#111">9</text><text transform="translate(272.20 159.71) scale(0.94 1)" font-size="9.9" text-anchor="middle" fill="#111">8</text><text transform="translate(283.93 159.71) scale(0.94 1)" font-size="9.9" text-anchor="middle" fill="#111">4</text><text transform="translate(295.66 159.71) scale(0.94 1)" font-size="9.9" text-anchor="middle" fill="#111">5</text><text transform="translate(272.20 171.44) scale(0.94 1)" font-size="9.9" text-anchor="middle" fill="#111">11</text><text transform="translate(283.93 171.44) scale(0.94 1)" font-size="9.9" text-anchor="middle" fill="#111">3</text><text transform="translate(295.66 171.44) scale(0.94 1)" font-size="9.9" text-anchor="middle" fill="#111">7</text><text transform="translate(272.20 183.17) scale(0.94 1)" font-size="9.9" text-anchor="middle" fill="#111">14</text><text transform="translate(283.93 183.17) scale(0.94 1)" font-size="9.9" text-anchor="middle" fill="#111">1</text><text transform="translate(295.66 183.17) scale(0.94 1)" font-size="9.9" text-anchor="middle" fill="#111">2</text><text transform="translate(283.93 194.90) scale(0.94 1)" font-size="9.9" text-anchor="middle" fill="#111">17</text><text transform="translate(295.66 194.90) scale(0.94 1)" font-size="9.9" text-anchor="middle" fill="#111">16</text><text transform="translate(283.93 206.62) scale(0.94 1)" font-size="9.9" text-anchor="middle" fill="#111">18</text><text transform="translate(295.66 206.62) scale(0.94 1)" font-size="9.9" text-anchor="middle" fill="#111">13</text><text transform="translate(283.93 218.36) scale(0.94 1)" font-size="9.9" text-anchor="middle" fill="#111">12</text><text transform="translate(295.66 218.36) scale(0.94 1)" font-size="9.9" text-anchor="middle" fill="#111">15</text><text transform="translate(307.38 89.33) scale(0.94 1)" font-size="9.9" text-anchor="middle" fill="#111">1</text><text transform="translate(319.12 89.33) scale(0.94 1)" font-size="9.9" text-anchor="middle" fill="#111">2</text><text transform="translate(330.85 89.33) scale(0.94 1)" font-size="9.9" text-anchor="middle" fill="#111">4</text><text transform="translate(342.58 89.33) scale(0.94 1)" font-size="9.9" text-anchor="middle" fill="#111">10</text><text transform="translate(354.31 89.33) scale(0.94 1)" font-size="9.9" text-anchor="middle" fill="#111">9</text><text transform="translate(330.85 101.05) scale(0.94 1)" font-size="9.9" text-anchor="middle" fill="#111">5</text><text transform="translate(342.58 101.05) scale(0.94 1)" font-size="9.9" text-anchor="middle" fill="#111">8</text><text transform="translate(354.31 101.05) scale(0.94 1)" font-size="9.9" text-anchor="middle" fill="#111">14</text><text transform="translate(330.85 112.78) scale(0.94 1)" font-size="9.9" text-anchor="middle" fill="#111">3</text><text transform="translate(342.58 112.78) scale(0.94 1)" font-size="9.9" text-anchor="middle" fill="#111">11</text><text transform="translate(354.31 112.78) scale(0.94 1)" font-size="9.9" text-anchor="middle" fill="#111">13</text><text transform="translate(330.85 124.52) scale(0.94 1)" font-size="9.9" text-anchor="middle" fill="#111">6</text><text transform="translate(342.58 124.52) scale(0.94 1)" font-size="9.9" text-anchor="middle" fill="#111">7</text><text transform="translate(354.31 124.52) scale(0.94 1)" font-size="9.9" text-anchor="middle" fill="#111">12</text><text transform="translate(319.12 147.98) scale(0.94 1)" font-size="9.9" text-anchor="middle" fill="#111">1</text><text transform="translate(330.85 147.98) scale(0.94 1)" font-size="9.9" text-anchor="middle" fill="#111">3</text><text transform="translate(319.12 159.71) scale(0.94 1)" font-size="9.9" text-anchor="middle" fill="#111">2</text><text transform="translate(330.85 159.71) scale(0.94 1)" font-size="9.9" text-anchor="middle" fill="#111">5</text><text transform="translate(319.12 171.44) scale(0.94 1)" font-size="9.9" text-anchor="middle" fill="#111">4</text><text transform="translate(330.85 171.44) scale(0.94 1)" font-size="9.9" text-anchor="middle" fill="#111">7</text><text transform="translate(319.12 183.17) scale(0.94 1)" font-size="9.9" text-anchor="middle" fill="#111">9</text><text transform="translate(330.85 183.17) scale(0.94 1)" font-size="9.9" text-anchor="middle" fill="#111">6</text><text transform="translate(319.12 194.90) scale(0.94 1)" font-size="9.9" text-anchor="middle" fill="#111">8</text><text transform="translate(354.31 147.98) scale(0.94 1)" font-size="9.9" text-anchor="middle" fill="#111">5</text><text transform="translate(366.04 147.98) scale(0.94 1)" font-size="9.9" text-anchor="middle" fill="#111">9</text><text transform="translate(377.77 147.98) scale(0.94 1)" font-size="9.9" text-anchor="middle" fill="#111">11</text><text transform="translate(389.50 147.98) scale(0.94 1)" font-size="9.9" text-anchor="middle" fill="#111">14</text><text transform="translate(354.31 159.71) scale(0.94 1)" font-size="9.9" text-anchor="middle" fill="#111">4</text><text transform="translate(366.04 159.71) scale(0.94 1)" font-size="9.9" text-anchor="middle" fill="#111">7</text><text transform="translate(377.77 159.71) scale(0.94 1)" font-size="9.9" text-anchor="middle" fill="#111">16</text><text transform="translate(389.50 159.71) scale(0.94 1)" font-size="9.9" text-anchor="middle" fill="#111">13</text><text transform="translate(354.31 171.44) scale(0.94 1)" font-size="9.9" text-anchor="middle" fill="#111">8</text><text transform="translate(366.04 171.44) scale(0.94 1)" font-size="9.9" text-anchor="middle" fill="#111">10</text><text transform="translate(377.77 171.44) scale(0.94 1)" font-size="9.9" text-anchor="middle" fill="#111">3</text><text transform="translate(389.50 171.44) scale(0.94 1)" font-size="9.9" text-anchor="middle" fill="#111">12</text><text transform="translate(354.31 183.17) scale(0.94 1)" font-size="9.9" text-anchor="middle" fill="#111">1</text><text transform="translate(366.04 183.17) scale(0.94 1)" font-size="9.9" text-anchor="middle" fill="#111">2</text><text transform="translate(377.77 183.17) scale(0.94 1)" font-size="9.9" text-anchor="middle" fill="#111">15</text><text transform="translate(389.50 183.17) scale(0.94 1)" font-size="9.9" text-anchor="middle" fill="#111">6</text><text transform="translate(342.58 206.62) scale(0.94 1)" font-size="9.9" text-anchor="middle" fill="#111">3</text><text transform="translate(354.31 206.62) scale(0.94 1)" font-size="9.9" text-anchor="middle" fill="#111">4</text><text transform="translate(319.12 218.36) scale(0.94 1)" font-size="9.9" text-anchor="middle" fill="#111">1</text><text transform="translate(330.85 218.36) scale(0.94 1)" font-size="9.9" text-anchor="middle" fill="#111">2</text><text transform="translate(342.58 218.36) scale(0.94 1)" font-size="9.9" text-anchor="middle" fill="#111">6</text><text transform="translate(354.31 218.36) scale(0.94 1)" font-size="9.9" text-anchor="middle" fill="#111">5</text><text transform="translate(377.77 209.82) scale(0.94 1)" font-size="9.9" text-anchor="middle" fill="#111">3</text><text transform="translate(389.50 209.82) scale(0.94 1)" font-size="9.9" text-anchor="middle" fill="#111">2</text><text transform="translate(401.23 209.82) scale(0.94 1)" font-size="9.9" text-anchor="middle" fill="#111">1</text><text transform="translate(283.93 241.82) scale(0.94 1)" font-size="9.9" text-anchor="middle" fill="#111">8</text><text transform="translate(295.66 241.82) scale(0.94 1)" font-size="9.9" text-anchor="middle" fill="#111">5</text><text transform="translate(307.38 241.82) scale(0.94 1)" font-size="9.9" text-anchor="middle" fill="#111">6</text><text transform="translate(319.12 241.82) scale(0.94 1)" font-size="9.9" text-anchor="middle" fill="#111">2</text><text transform="translate(330.85 241.82) scale(0.94 1)" font-size="9.9" text-anchor="middle" fill="#111">1</text><text transform="translate(283.93 253.55) scale(0.94 1)" font-size="9.9" text-anchor="middle" fill="#111">9</text><text transform="translate(295.66 253.55) scale(0.94 1)" font-size="9.9" text-anchor="middle" fill="#111">7</text><text transform="translate(307.38 253.55) scale(0.94 1)" font-size="9.9" text-anchor="middle" fill="#111">4</text><text transform="translate(319.12 253.55) scale(0.94 1)" font-size="9.9" text-anchor="middle" fill="#111">3</text><text transform="translate(283.93 288.74) scale(0.94 1)" font-size="9.9" text-anchor="middle" fill="#111">2</text><text transform="translate(295.66 288.74) scale(0.94 1)" font-size="9.9" text-anchor="middle" fill="#111">1</text><text transform="translate(283.93 300.47) scale(0.94 1)" font-size="9.9" text-anchor="middle" fill="#111">3</text><text transform="translate(295.66 300.47) scale(0.94 1)" font-size="9.9" text-anchor="middle" fill="#111">4</text><text transform="translate(319.12 277.00) scale(0.94 1)" font-size="9.9" text-anchor="middle" fill="#111">4</text><text transform="translate(330.85 277.00) scale(0.94 1)" font-size="9.9" text-anchor="middle" fill="#111">5</text><text transform="translate(342.58 277.00) scale(0.94 1)" font-size="9.9" text-anchor="middle" fill="#111">3</text><text transform="translate(319.12 288.74) scale(0.94 1)" font-size="9.9" text-anchor="middle" fill="#111">7</text><text transform="translate(330.85 288.74) scale(0.94 1)" font-size="9.9" text-anchor="middle" fill="#111">6</text><text transform="translate(342.58 288.74) scale(0.94 1)" font-size="9.9" text-anchor="middle" fill="#111">2</text><text transform="translate(319.12 300.47) scale(0.94 1)" font-size="9.9" text-anchor="middle" fill="#111">1</text><text transform="translate(366.04 253.55) scale(0.94 1)" font-size="9.9" text-anchor="middle" fill="#111">14</text><text transform="translate(377.77 253.55) scale(0.94 1)" font-size="9.9" text-anchor="middle" fill="#111">9</text><text transform="translate(366.04 265.27) scale(0.94 1)" font-size="9.9" text-anchor="middle" fill="#111">11</text><text transform="translate(377.77 265.27) scale(0.94 1)" font-size="9.9" text-anchor="middle" fill="#111">6</text><text transform="translate(366.04 277.00) scale(0.94 1)" font-size="9.9" text-anchor="middle" fill="#111">5</text><text transform="translate(377.77 277.00) scale(0.94 1)" font-size="9.9" text-anchor="middle" fill="#111">4</text><text transform="translate(389.50 277.00) scale(0.94 1)" font-size="9.9" text-anchor="middle" fill="#111">7</text><text transform="translate(366.04 288.74) scale(0.94 1)" font-size="9.9" text-anchor="middle" fill="#111">3</text><text transform="translate(377.77 288.74) scale(0.94 1)" font-size="9.9" text-anchor="middle" fill="#111">13</text><text transform="translate(389.50 288.74) scale(0.94 1)" font-size="9.9" text-anchor="middle" fill="#111">10</text><text transform="translate(366.04 300.47) scale(0.94 1)" font-size="9.9" text-anchor="middle" fill="#111">2</text><text transform="translate(377.77 300.47) scale(0.94 1)" font-size="9.9" text-anchor="middle" fill="#111">8</text><text transform="translate(389.50 300.47) scale(0.94 1)" font-size="9.9" text-anchor="middle" fill="#111">12</text><text transform="translate(401.23 300.47) scale(0.94 1)" font-size="9.9" text-anchor="middle" fill="#111">1</text><text transform="translate(342.58 323.93) scale(0.94 1)" font-size="9.9" text-anchor="middle" fill="#111">1</text><text transform="translate(354.31 323.93) scale(0.94 1)" font-size="9.9" text-anchor="middle" fill="#111">2</text><text transform="translate(366.04 323.93) scale(0.94 1)" font-size="9.9" text-anchor="middle" fill="#111">5</text><text transform="translate(377.77 323.93) scale(0.94 1)" font-size="9.9" text-anchor="middle" fill="#111">3</text><text transform="translate(389.50 323.93) scale(0.94 1)" font-size="9.9" text-anchor="middle" fill="#111">11</text><text transform="translate(401.23 323.93) scale(0.94 1)" font-size="9.9" text-anchor="middle" fill="#111">12</text><text transform="translate(412.96 323.93) scale(0.94 1)" font-size="9.9" text-anchor="middle" fill="#111">13</text><text transform="translate(424.69 323.93) scale(0.94 1)" font-size="9.9" text-anchor="middle" fill="#111">4</text><text transform="translate(377.77 335.66) scale(0.94 1)" font-size="9.9" text-anchor="middle" fill="#111">14</text><text transform="translate(389.50 335.66) scale(0.94 1)" font-size="9.9" text-anchor="middle" fill="#111">15</text><text transform="translate(401.23 335.66) scale(0.94 1)" font-size="9.9" text-anchor="middle" fill="#111">10</text><text transform="translate(412.96 335.66) scale(0.94 1)" font-size="9.9" text-anchor="middle" fill="#111">7</text><text transform="translate(424.69 335.66) scale(0.94 1)" font-size="9.9" text-anchor="middle" fill="#111">6</text><text transform="translate(389.50 347.38) scale(0.94 1)" font-size="9.9" text-anchor="middle" fill="#111">16</text><text transform="translate(401.23 347.38) scale(0.94 1)" font-size="9.9" text-anchor="middle" fill="#111">17</text><text transform="translate(412.96 347.38) scale(0.94 1)" font-size="9.9" text-anchor="middle" fill="#111">9</text><text transform="translate(424.69 347.38) scale(0.94 1)" font-size="9.9" text-anchor="middle" fill="#111">8</text><text transform="translate(436.42 347.38) scale(0.94 1)" font-size="9.9" text-anchor="middle" fill="#111">18</text><text transform="translate(401.23 359.12) scale(0.94 1)" font-size="9.9" text-anchor="middle" fill="#111">19</text><text transform="translate(412.96 359.12) scale(0.94 1)" font-size="9.9" text-anchor="middle" fill="#111">20</text><text transform="translate(424.69 359.12) scale(0.94 1)" font-size="9.9" text-anchor="middle" fill="#111">21</text><text transform="translate(436.42 359.12) scale(0.94 1)" font-size="9.9" text-anchor="middle" fill="#111">22</text><text transform="translate(412.96 370.85) scale(0.94 1)" font-size="9.9" text-anchor="middle" fill="#111">25</text><text transform="translate(424.69 370.85) scale(0.94 1)" font-size="9.9" text-anchor="middle" fill="#111">24</text><text transform="translate(436.42 370.85) scale(0.94 1)" font-size="9.9" text-anchor="middle" fill="#111">23</text><text transform="translate(424.69 382.58) scale(0.94 1)" font-size="9.9" text-anchor="middle" fill="#111">26</text><text transform="translate(436.42 382.58) scale(0.94 1)" font-size="9.9" text-anchor="middle" fill="#111">27</text><text transform="translate(424.69 288.74) scale(0.94 1)" font-size="9.9" text-anchor="middle" fill="#111">3</text><text transform="translate(436.42 288.74) scale(0.94 1)" font-size="9.9" text-anchor="middle" fill="#111">4</text><text transform="translate(448.15 288.74) scale(0.94 1)" font-size="9.9" text-anchor="middle" fill="#111">5</text><text transform="translate(459.88 288.74) scale(0.94 1)" font-size="9.9" text-anchor="middle" fill="#111">7</text><text transform="translate(436.42 300.47) scale(0.94 1)" font-size="9.9" text-anchor="middle" fill="#111">2</text><text transform="translate(448.15 300.47) scale(0.94 1)" font-size="9.9" text-anchor="middle" fill="#111">6</text><text transform="translate(459.88 300.47) scale(0.94 1)" font-size="9.9" text-anchor="middle" fill="#111">1</text><text transform="translate(401.23 253.55) scale(0.94 1)" font-size="9.9" text-anchor="middle" fill="#111">11</text><text transform="translate(412.96 253.55) scale(0.94 1)" font-size="9.9" text-anchor="middle" fill="#111">5</text><text transform="translate(424.69 253.55) scale(0.94 1)" font-size="9.9" text-anchor="middle" fill="#111">10</text><text transform="translate(436.42 253.55) scale(0.94 1)" font-size="9.9" text-anchor="middle" fill="#111">6</text><text transform="translate(448.15 253.55) scale(0.94 1)" font-size="9.9" text-anchor="middle" fill="#111">13</text><text transform="translate(459.88 253.55) scale(0.94 1)" font-size="9.9" text-anchor="middle" fill="#111">4</text><text transform="translate(471.61 253.55) scale(0.94 1)" font-size="9.9" text-anchor="middle" fill="#111">1</text><text transform="translate(412.96 265.27) scale(0.94 1)" font-size="9.9" text-anchor="middle" fill="#111">12</text><text transform="translate(424.69 265.27) scale(0.94 1)" font-size="9.9" text-anchor="middle" fill="#111">8</text><text transform="translate(436.42 265.27) scale(0.94 1)" font-size="9.9" text-anchor="middle" fill="#111">9</text><text transform="translate(448.15 265.27) scale(0.94 1)" font-size="9.9" text-anchor="middle" fill="#111">7</text><text transform="translate(459.88 265.27) scale(0.94 1)" font-size="9.9" text-anchor="middle" fill="#111">2</text><text transform="translate(471.61 265.27) scale(0.94 1)" font-size="9.9" text-anchor="middle" fill="#111">3</text><text transform="translate(436.42 206.62) scale(0.94 1)" font-size="9.9" text-anchor="middle" fill="#111">11</text><text transform="translate(448.15 206.62) scale(0.94 1)" font-size="9.9" text-anchor="middle" fill="#111">8</text><text transform="translate(424.69 218.36) scale(0.94 1)" font-size="9.9" text-anchor="middle" fill="#111">6</text><text transform="translate(436.42 218.36) scale(0.94 1)" font-size="9.9" text-anchor="middle" fill="#111">10</text><text transform="translate(448.15 218.36) scale(0.94 1)" font-size="9.9" text-anchor="middle" fill="#111">1</text><text transform="translate(389.50 230.09) scale(0.94 1)" font-size="9.9" text-anchor="middle" fill="#111">9</text><text transform="translate(401.23 230.09) scale(0.94 1)" font-size="9.9" text-anchor="middle" fill="#111">5</text><text transform="translate(412.96 230.09) scale(0.94 1)" font-size="9.9" text-anchor="middle" fill="#111">7</text><text transform="translate(424.69 230.09) scale(0.94 1)" font-size="9.9" text-anchor="middle" fill="#111">4</text><text transform="translate(436.42 230.09) scale(0.94 1)" font-size="9.9" text-anchor="middle" fill="#111">3</text><text transform="translate(448.15 230.09) scale(0.94 1)" font-size="9.9" text-anchor="middle" fill="#111">2</text><text transform="translate(424.69 183.17) scale(0.94 1)" font-size="9.9" text-anchor="middle" fill="#111">6</text><text transform="translate(436.42 183.17) scale(0.94 1)" font-size="9.9" text-anchor="middle" fill="#111">8</text><text transform="translate(448.15 183.17) scale(0.94 1)" font-size="9.9" text-anchor="middle" fill="#111">4</text><text transform="translate(459.88 183.17) scale(0.94 1)" font-size="9.9" text-anchor="middle" fill="#111">5</text><text transform="translate(471.61 183.17) scale(0.94 1)" font-size="9.9" text-anchor="middle" fill="#111">7</text><text transform="translate(471.61 194.90) scale(0.94 1)" font-size="9.9" text-anchor="middle" fill="#111">3</text><text transform="translate(471.61 206.62) scale(0.94 1)" font-size="9.9" text-anchor="middle" fill="#111">2</text><text transform="translate(471.61 218.36) scale(0.94 1)" font-size="9.9" text-anchor="middle" fill="#111">1</text><text x="495.37" y="182.47" font-size="8.4" text-anchor="middle" textLength="9.4" lengthAdjust="spacingAndGlyphs" fill="#111">AL</text><text transform="translate(412.96 136.25) scale(0.94 1)" font-size="9.9" text-anchor="middle" fill="#111">16</text><text transform="translate(424.69 136.25) scale(0.94 1)" font-size="9.9" text-anchor="middle" fill="#111">15</text><text transform="translate(436.42 136.25) scale(0.94 1)" font-size="9.9" text-anchor="middle" fill="#111">12</text><text transform="translate(448.15 136.25) scale(0.94 1)" font-size="9.9" text-anchor="middle" fill="#111">8</text><text transform="translate(459.88 136.25) scale(0.94 1)" font-size="9.9" text-anchor="middle" fill="#111">7</text><text transform="translate(471.61 136.25) scale(0.94 1)" font-size="9.9" text-anchor="middle" fill="#111">1</text><text transform="translate(412.96 147.98) scale(0.94 1)" font-size="9.9" text-anchor="middle" fill="#111">17</text><text transform="translate(424.69 147.98) scale(0.94 1)" font-size="9.9" text-anchor="middle" fill="#111">18</text><text transform="translate(436.42 147.98) scale(0.94 1)" font-size="9.9" text-anchor="middle" fill="#111">10</text><text transform="translate(448.15 147.98) scale(0.94 1)" font-size="9.9" text-anchor="middle" fill="#111">9</text><text transform="translate(459.88 147.98) scale(0.94 1)" font-size="9.9" text-anchor="middle" fill="#111">4</text><text transform="translate(471.61 147.98) scale(0.94 1)" font-size="9.9" text-anchor="middle" fill="#111">2</text><text transform="translate(412.96 159.71) scale(0.94 1)" font-size="9.9" text-anchor="middle" fill="#111">14</text><text transform="translate(424.69 159.71) scale(0.94 1)" font-size="9.9" text-anchor="middle" fill="#111">13</text><text transform="translate(436.42 159.71) scale(0.94 1)" font-size="9.9" text-anchor="middle" fill="#111">11</text><text transform="translate(448.15 159.71) scale(0.94 1)" font-size="9.9" text-anchor="middle" fill="#111">6</text><text transform="translate(459.88 159.71) scale(0.94 1)" font-size="9.9" text-anchor="middle" fill="#111">5</text><text transform="translate(471.61 159.71) scale(0.94 1)" font-size="9.9" text-anchor="middle" fill="#111">3</text><text transform="translate(506.80 147.98) scale(0.94 1)" font-size="9.9" text-anchor="middle" fill="#111">5</text><text transform="translate(518.53 147.98) scale(0.94 1)" font-size="9.9" text-anchor="middle" fill="#111">11</text><text transform="translate(530.26 147.98) scale(0.94 1)" font-size="9.9" text-anchor="middle" fill="#111">9</text><text transform="translate(506.80 159.71) scale(0.94 1)" font-size="9.9" text-anchor="middle" fill="#111">7</text><text transform="translate(518.53 159.71) scale(0.94 1)" font-size="9.9" text-anchor="middle" fill="#111">10</text><text transform="translate(530.26 159.71) scale(0.94 1)" font-size="9.9" text-anchor="middle" fill="#111">8</text><text transform="translate(518.53 171.44) scale(0.94 1)" font-size="9.9" text-anchor="middle" fill="#111">12</text><text transform="translate(530.26 171.44) scale(0.94 1)" font-size="9.9" text-anchor="middle" fill="#111">6</text><text transform="translate(518.53 183.17) scale(0.94 1)" font-size="9.9" text-anchor="middle" fill="#111">3</text><text transform="translate(530.26 183.17) scale(0.94 1)" font-size="9.9" text-anchor="middle" fill="#111">4</text><text transform="translate(518.53 194.90) scale(0.94 1)" font-size="9.9" text-anchor="middle" fill="#111">1</text><text transform="translate(530.26 194.90) scale(0.94 1)" font-size="9.9" text-anchor="middle" fill="#111">2</text><text transform="translate(471.61 65.87) scale(0.94 1)" font-size="9.9" text-anchor="middle" fill="#111">24</text><text transform="translate(483.34 65.87) scale(0.94 1)" font-size="9.9" text-anchor="middle" fill="#111">21</text><text transform="translate(495.07 65.87) scale(0.94 1)" font-size="9.9" text-anchor="middle" fill="#111">20</text><text transform="translate(459.88 77.59) scale(0.94 1)" font-size="9.9" text-anchor="middle" fill="#111">25</text><text transform="translate(471.61 77.59) scale(0.94 1)" font-size="9.9" text-anchor="middle" fill="#111">23</text><text transform="translate(483.34 77.59) scale(0.94 1)" font-size="9.9" text-anchor="middle" fill="#111">22</text><text transform="translate(495.07 77.59) scale(0.94 1)" font-size="9.9" text-anchor="middle" fill="#111">19</text><text transform="translate(448.15 89.33) scale(0.94 1)" font-size="9.9" text-anchor="middle" fill="#111">26</text><text transform="translate(459.88 89.33) scale(0.94 1)" font-size="9.9" text-anchor="middle" fill="#111">27</text><text transform="translate(471.61 89.33) scale(0.94 1)" font-size="9.9" text-anchor="middle" fill="#111">18</text><text transform="translate(483.34 89.33) scale(0.94 1)" font-size="9.9" text-anchor="middle" fill="#111">17</text><text transform="translate(495.07 89.33) scale(0.94 1)" font-size="9.9" text-anchor="middle" fill="#111">16</text><text transform="translate(436.42 101.05) scale(0.94 1)" font-size="9.9" text-anchor="middle" fill="#111">7</text><text transform="translate(448.15 101.05) scale(0.94 1)" font-size="9.9" text-anchor="middle" fill="#111">12</text><text transform="translate(459.88 101.05) scale(0.94 1)" font-size="9.9" text-anchor="middle" fill="#111">13</text><text transform="translate(471.61 101.05) scale(0.94 1)" font-size="9.9" text-anchor="middle" fill="#111">6</text><text transform="translate(483.34 101.05) scale(0.94 1)" font-size="9.9" text-anchor="middle" fill="#111">14</text><text transform="translate(495.07 101.05) scale(0.94 1)" font-size="9.9" text-anchor="middle" fill="#111">15</text><text transform="translate(424.69 112.78) scale(0.94 1)" font-size="9.9" text-anchor="middle" fill="#111">11</text><text transform="translate(436.42 112.78) scale(0.94 1)" font-size="9.9" text-anchor="middle" fill="#111">10</text><text transform="translate(448.15 112.78) scale(0.94 1)" font-size="9.9" text-anchor="middle" fill="#111">9</text><text transform="translate(459.88 112.78) scale(0.94 1)" font-size="9.9" text-anchor="middle" fill="#111">8</text><text transform="translate(471.61 112.78) scale(0.94 1)" font-size="9.9" text-anchor="middle" fill="#111">5</text><text transform="translate(483.34 112.78) scale(0.94 1)" font-size="9.9" text-anchor="middle" fill="#111">4</text><text transform="translate(495.07 112.78) scale(0.94 1)" font-size="9.9" text-anchor="middle" fill="#111">3</text><text transform="translate(495.07 124.52) scale(0.94 1)" font-size="9.9" text-anchor="middle" fill="#111">2</text><text transform="translate(506.80 124.52) scale(0.94 1)" font-size="9.9" text-anchor="middle" fill="#111">1</text><text x="507.10" y="41.70" font-size="8.4" text-anchor="middle" textLength="9.4" lengthAdjust="spacingAndGlyphs" fill="#111">AL</text><text transform="translate(530.26 30.68) scale(0.94 1)" font-size="9.9" text-anchor="middle" fill="#111">2</text><text transform="translate(530.26 42.41) scale(0.94 1)" font-size="9.9" text-anchor="middle" fill="#111">1</text><text transform="translate(553.72 30.68) scale(0.94 1)" font-size="9.9" text-anchor="middle" fill="#111">2</text><text transform="translate(553.72 42.41) scale(0.94 1)" font-size="9.9" text-anchor="middle" fill="#111">1</text><text transform="translate(518.53 65.87) scale(0.94 1)" font-size="9.9" text-anchor="middle" fill="#111">2</text><text transform="translate(530.26 65.87) scale(0.94 1)" font-size="9.9" text-anchor="middle" fill="#111">3</text><text transform="translate(541.99 65.87) scale(0.94 1)" font-size="9.9" text-anchor="middle" fill="#111">6</text><text transform="translate(553.72 65.87) scale(0.94 1)" font-size="9.9" text-anchor="middle" fill="#111">7</text><text transform="translate(518.53 77.59) scale(0.94 1)" font-size="9.9" text-anchor="middle" fill="#111">1</text><text transform="translate(530.26 77.59) scale(0.94 1)" font-size="9.9" text-anchor="middle" fill="#111">5</text><text transform="translate(541.99 77.59) scale(0.94 1)" font-size="9.9" text-anchor="middle" fill="#111">4</text><text transform="translate(553.72 77.59) scale(0.94 1)" font-size="9.9" text-anchor="middle" fill="#111">8</text><text transform="translate(565.45 77.59) scale(0.94 1)" font-size="9.9" text-anchor="middle" fill="#111">9</text><text transform="translate(518.53 101.05) scale(0.94 1)" font-size="9.9" text-anchor="middle" fill="#111">5</text><text transform="translate(530.26 101.05) scale(0.94 1)" font-size="9.9" text-anchor="middle" fill="#111">1</text><text transform="translate(541.99 101.05) scale(0.94 1)" font-size="9.9" text-anchor="middle" fill="#111">2</text><text transform="translate(530.26 112.78) scale(0.94 1)" font-size="9.9" text-anchor="middle" fill="#111">4</text><text transform="translate(541.99 112.78) scale(0.94 1)" font-size="9.9" text-anchor="middle" fill="#111">3</text><text transform="translate(565.45 101.05) scale(0.94 1)" font-size="9.9" text-anchor="middle" fill="#111">1</text><text transform="translate(565.45 112.78) scale(0.94 1)" font-size="9.9" text-anchor="middle" fill="#111">2</text><text transform="translate(154.90 370.85) scale(0.94 1)" font-size="9.9" text-anchor="middle" fill="#111">1</text><text transform="translate(166.62 370.85) scale(0.94 1)" font-size="9.9" text-anchor="middle" fill="#111">2</text><text x="49.62" y="370.15" font-size="8.4" text-anchor="middle" textLength="9.4" lengthAdjust="spacingAndGlyphs" fill="#111">AL</text><text x="123.96" y="100.76" font-size="8.4" text-anchor="middle" textLength="9.4" lengthAdjust="spacingAndGlyphs" fill="#111">AL</text><text x="123.96" y="124.06" font-size="8.4" text-anchor="middle" textLength="9.4" lengthAdjust="spacingAndGlyphs" fill="#111">AL</text></g>
<g fill="none" stroke="#1e1e1e" stroke-width="1.15" stroke-linecap="square"><path d="M43.46 56.00L55.19 56.00 M43.46 56.00L43.46 67.73 M55.19 56.00L66.92 56.00 M66.92 56.00L66.92 67.73 M20.00 67.73L31.73 67.73 M20.00 67.73L20.00 79.46 M31.73 67.73L43.46 67.73 M66.92 67.73L66.92 79.46 M20.00 91.19L31.73 91.19 M20.00 79.46L20.00 91.19 M31.73 91.19L43.46 91.19 M43.46 91.19L55.19 91.19 M55.19 91.19L66.92 91.19 M66.92 79.46L66.92 91.19"/><path d="M20.00 102.92L31.73 102.92 M20.00 102.92L20.00 114.65 M31.73 102.92L43.46 102.92 M43.46 102.92L43.46 114.65 M20.00 126.38L31.73 126.38 M20.00 114.65L20.00 126.38 M31.73 126.38L43.46 126.38 M43.46 114.65L55.19 114.65 M43.46 126.38L55.19 126.38 M55.19 114.65L55.19 126.38"/><path d="M66.92 102.92L78.65 102.92 M66.92 102.92L66.92 114.65 M78.65 102.92L78.65 114.65 M66.92 126.38L78.65 126.38 M66.92 114.65L66.92 126.38 M78.65 114.65L78.65 126.38"/><path d="M20.00 138.11L31.73 138.11 M20.00 138.11L20.00 149.84 M31.73 138.11L43.46 138.11 M43.46 138.11L55.19 138.11 M55.19 138.11L55.19 149.84 M20.00 149.84L20.00 161.57 M55.19 149.84L55.19 161.57 M20.00 161.57L20.00 173.30 M55.19 161.57L55.19 173.30 M20.00 173.30L20.00 185.03 M55.19 173.30L55.19 185.03 M20.00 185.03L20.00 196.76 M55.19 185.03L66.92 185.03 M66.92 185.03L66.92 196.76 M20.00 196.76L20.00 208.49 M66.92 196.76L66.92 208.49 M20.00 220.22L31.73 220.22 M20.00 208.49L20.00 220.22 M66.92 208.49L78.65 208.49 M78.65 208.49L78.65 220.22 M31.73 231.95L43.46 231.95 M31.73 220.22L31.73 231.95 M78.65 220.22L90.38 220.22 M90.38 220.22L90.38 231.95 M43.46 231.95L43.46 243.68 M90.38 231.95L102.11 231.95 M102.11 231.95L102.11 243.68 M43.46 255.41L55.19 255.41 M43.46 243.68L43.46 255.41 M102.11 243.68L113.84 243.68 M113.84 243.68L113.84 255.41 M55.19 267.14L66.92 267.14 M55.19 255.41L55.19 267.14 M113.84 255.41L113.84 267.14 M66.92 278.87L78.65 278.87 M66.92 267.14L66.92 278.87 M113.84 267.14L113.84 278.87 M78.65 290.60L90.38 290.60 M78.65 278.87L78.65 290.60 M90.38 290.60L102.11 290.60 M102.11 290.60L113.84 290.60 M113.84 278.87L113.84 290.60"/><path d="M66.92 138.11L78.65 138.11 M66.92 138.11L66.92 149.84 M78.65 138.11L90.38 138.11 M90.38 138.11L90.38 149.84 M66.92 161.57L78.65 161.57 M66.92 149.84L66.92 161.57 M78.65 161.57L90.38 161.57 M90.38 149.84L90.38 161.57"/><path d="M102.11 138.11L113.84 138.11 M102.11 138.11L102.11 149.84 M113.84 138.11L125.57 138.11 M125.57 138.11L125.57 149.84 M102.11 161.57L113.84 161.57 M102.11 149.84L102.11 161.57 M113.84 161.57L125.57 161.57 M125.57 149.84L125.57 161.57"/><path d="M160.76 126.38L172.49 126.38 M160.76 126.38L160.76 138.11 M172.49 126.38L172.49 138.11 M137.30 138.11L149.03 138.11 M137.30 138.11L137.30 149.84 M149.03 138.11L160.76 138.11 M172.49 138.11L172.49 149.84 M137.30 161.57L149.03 161.57 M137.30 149.84L137.30 161.57 M149.03 161.57L160.76 161.57 M160.76 161.57L172.49 161.57 M172.49 149.84L172.49 161.57"/><path d="M90.38 173.30L102.11 173.30 M90.38 173.30L90.38 185.03 M102.11 173.30L113.84 173.30 M113.84 173.30L125.57 173.30 M125.57 173.30L125.57 185.03 M90.38 185.03L90.38 196.76 M125.57 185.03L125.57 196.76 M90.38 208.49L102.11 208.49 M90.38 196.76L90.38 208.49 M102.11 208.49L113.84 208.49 M113.84 208.49L125.57 208.49 M125.57 196.76L125.57 208.49"/><path d="M137.30 173.30L149.03 173.30 M137.30 173.30L137.30 185.03 M149.03 173.30L149.03 185.03 M137.30 185.03L137.30 196.76 M149.03 185.03L149.03 196.76 M137.30 208.49L149.03 208.49 M137.30 196.76L137.30 208.49 M149.03 196.76L149.03 208.49"/><path d="M184.22 79.46L195.95 79.46 M184.22 91.19L195.95 91.19 M184.22 79.46L184.22 91.19 M195.95 79.46L195.95 91.19"/><path d="M184.22 102.92L195.95 102.92 M184.22 114.65L195.95 114.65 M184.22 102.92L184.22 114.65 M195.95 102.92L195.95 114.65"/><path d="M184.22 138.11L195.95 138.11 M184.22 149.84L195.95 149.84 M184.22 138.11L184.22 149.84 M195.95 138.11L207.68 138.11 M195.95 149.84L207.68 149.84 M207.68 138.11L219.41 138.11 M207.68 149.84L219.41 149.84 M219.41 138.11L219.41 149.84"/><path d="M184.22 161.57L195.95 161.57 M184.22 161.57L184.22 173.30 M195.95 161.57L207.68 161.57 M207.68 161.57L207.68 173.30 M184.22 185.03L195.95 185.03 M184.22 173.30L184.22 185.03 M195.95 185.03L207.68 185.03 M207.68 173.30L207.68 185.03"/><path d="M172.49 196.76L184.22 196.76 M172.49 208.49L184.22 208.49 M172.49 196.76L172.49 208.49 M184.22 196.76L195.95 196.76 M195.95 196.76L207.68 196.76 M207.68 196.76L207.68 208.49 M184.22 220.22L195.95 220.22 M184.22 208.49L184.22 220.22 M195.95 220.22L207.68 220.22 M207.68 208.49L207.68 220.22"/><path d="M149.03 220.22L160.76 220.22 M149.03 220.22L149.03 231.95 M160.76 220.22L172.49 220.22 M172.49 220.22L172.49 231.95 M149.03 231.95L149.03 243.68 M172.49 231.95L184.22 231.95 M184.22 231.95L195.95 231.95 M195.95 231.95L207.68 231.95 M207.68 231.95L219.41 231.95 M219.41 231.95L219.41 243.68 M125.57 243.68L137.30 243.68 M125.57 255.41L137.30 255.41 M125.57 243.68L125.57 255.41 M137.30 243.68L149.03 243.68 M219.41 243.68L219.41 255.41 M137.30 255.41L137.30 267.14 M207.68 267.14L219.41 267.14 M219.41 255.41L219.41 267.14 M137.30 278.87L149.03 278.87 M137.30 267.14L137.30 278.87 M195.95 278.87L207.68 278.87 M207.68 267.14L207.68 278.87 M149.03 290.60L160.76 290.60 M149.03 278.87L149.03 290.60 M184.22 290.60L195.95 290.60 M195.95 278.87L195.95 290.60 M160.76 302.33L172.49 302.33 M160.76 290.60L160.76 302.33 M184.22 290.60L184.22 302.33 M172.49 314.06L184.22 314.06 M172.49 302.33L172.49 314.06 M184.22 302.33L184.22 314.06"/><path d="M231.14 91.19L242.87 91.19 M231.14 91.19L231.14 102.92 M242.87 91.19L254.60 91.19 M254.60 91.19L254.60 102.92 M231.14 102.92L231.14 114.65 M254.60 102.92L254.60 114.65 M231.14 114.65L231.14 126.38 M254.60 114.65L254.60 126.38 M231.14 138.11L242.87 138.11 M231.14 126.38L231.14 138.11 M242.87 138.11L254.60 138.11 M254.60 126.38L254.60 138.11"/><path d="M231.14 149.84L242.87 149.84 M231.14 149.84L231.14 161.57 M242.87 149.84L254.60 149.84 M254.60 149.84L254.60 161.57 M231.14 173.30L242.87 173.30 M231.14 161.57L231.14 173.30 M242.87 173.30L254.60 173.30 M254.60 161.57L254.60 173.30"/><path d="M231.14 185.03L242.87 185.03 M231.14 185.03L231.14 196.76 M242.87 185.03L254.60 185.03 M254.60 185.03L254.60 196.76 M231.14 196.76L231.14 208.49 M254.60 196.76L266.33 196.76 M266.33 196.76L266.33 208.49 M231.14 220.22L242.87 220.22 M231.14 208.49L231.14 220.22 M242.87 220.22L254.60 220.22 M254.60 220.22L266.33 220.22 M266.33 208.49L266.33 220.22"/><path d="M231.14 231.95L242.87 231.95 M231.14 231.95L231.14 243.68 M242.87 231.95L254.60 231.95 M254.60 231.95L254.60 243.68 M231.14 255.41L242.87 255.41 M231.14 243.68L231.14 255.41 M242.87 255.41L254.60 255.41 M254.60 243.68L254.60 255.41"/><path d="M231.14 267.14L242.87 267.14 M231.14 267.14L231.14 278.87 M242.87 267.14L242.87 278.87 M231.14 278.87L231.14 290.60 M242.87 278.87L254.60 278.87 M254.60 278.87L254.60 290.60 M231.14 302.33L242.87 302.33 M231.14 290.60L231.14 302.33 M242.87 302.33L254.60 302.33 M254.60 290.60L266.33 290.60 M254.60 302.33L266.33 302.33 M266.33 290.60L266.33 302.33"/><path d="M266.33 91.19L278.06 91.19 M266.33 91.19L266.33 102.92 M278.06 91.19L289.79 91.19 M289.79 91.19L289.79 102.92 M266.33 102.92L266.33 114.65 M289.79 102.92L301.52 102.92 M301.52 102.92L301.52 114.65 M266.33 126.38L278.06 126.38 M266.33 114.65L266.33 126.38 M278.06 126.38L289.79 126.38 M289.79 126.38L301.52 126.38 M301.52 114.65L301.52 126.38"/><path d="M266.33 138.11L278.06 138.11 M266.33 138.11L266.33 149.84 M278.06 138.11L289.79 138.11 M289.79 138.11L301.52 138.11 M301.52 138.11L301.52 149.84 M266.33 149.84L266.33 161.57 M301.52 149.84L301.52 161.57 M266.33 161.57L266.33 173.30 M301.52 161.57L301.52 173.30 M266.33 185.03L278.06 185.03 M266.33 173.30L266.33 185.03 M301.52 173.30L301.52 185.03 M278.06 185.03L278.06 196.76 M301.52 185.03L301.52 196.76 M278.06 196.76L278.06 208.49 M301.52 196.76L301.52 208.49 M278.06 220.22L289.79 220.22 M278.06 208.49L278.06 220.22 M289.79 220.22L301.52 220.22 M301.52 208.49L301.52 220.22"/><path d="M301.52 79.46L313.25 79.46 M301.52 91.19L313.25 91.19 M301.52 79.46L301.52 91.19 M313.25 79.46L324.98 79.46 M313.25 91.19L324.98 91.19 M324.98 79.46L336.71 79.46 M336.71 79.46L348.44 79.46 M348.44 79.46L360.17 79.46 M360.17 79.46L360.17 91.19 M324.98 91.19L324.98 102.92 M360.17 91.19L360.17 102.92 M324.98 102.92L324.98 114.65 M360.17 102.92L360.17 114.65 M324.98 126.38L336.71 126.38 M324.98 114.65L324.98 126.38 M336.71 126.38L348.44 126.38 M348.44 126.38L360.17 126.38 M360.17 114.65L360.17 126.38"/><path d="M313.25 138.11L324.98 138.11 M313.25 138.11L313.25 149.84 M324.98 138.11L336.71 138.11 M336.71 138.11L336.71 149.84 M313.25 149.84L313.25 161.57 M336.71 149.84L336.71 161.57 M313.25 161.57L313.25 173.30 M336.71 161.57L336.71 173.30 M313.25 173.30L313.25 185.03 M324.98 185.03L336.71 185.03 M336.71 173.30L336.71 185.03 M313.25 196.76L324.98 196.76 M313.25 185.03L313.25 196.76 M324.98 185.03L324.98 196.76"/><path d="M348.44 138.11L360.17 138.11 M348.44 138.11L348.44 149.84 M360.17 138.11L371.90 138.11 M371.90 138.11L383.63 138.11 M383.63 138.11L395.36 138.11 M395.36 138.11L395.36 149.84 M348.44 149.84L348.44 161.57 M395.36 149.84L395.36 161.57 M348.44 161.57L348.44 173.30 M395.36 161.57L395.36 173.30 M348.44 185.03L360.17 185.03 M348.44 173.30L348.44 185.03 M360.17 185.03L371.90 185.03 M371.90 185.03L383.63 185.03 M383.63 185.03L395.36 185.03 M395.36 173.30L395.36 185.03"/><path d="M336.71 196.76L348.44 196.76 M336.71 196.76L336.71 208.49 M348.44 196.76L360.17 196.76 M360.17 196.76L360.17 208.49 M313.25 208.49L324.98 208.49 M313.25 220.22L324.98 220.22 M313.25 208.49L313.25 220.22 M324.98 208.49L336.71 208.49 M324.98 220.22L336.71 220.22 M336.71 220.22L348.44 220.22 M348.44 220.22L360.17 220.22 M360.17 208.49L360.17 220.22"/><path d="M371.90 199.96L383.63 199.96 M371.90 211.69L383.63 211.69 M371.90 199.96L371.90 211.69 M383.63 199.96L395.36 199.96 M383.63 211.69L395.36 211.69 M395.36 199.96L407.09 199.96 M395.36 211.69L407.09 211.69 M407.09 199.96L407.09 211.69"/><path d="M278.06 231.95L289.79 231.95 M278.06 231.95L278.06 243.68 M289.79 231.95L301.52 231.95 M301.52 231.95L313.25 231.95 M313.25 231.95L324.98 231.95 M324.98 231.95L336.71 231.95 M324.98 243.68L336.71 243.68 M336.71 231.95L336.71 243.68 M278.06 255.41L289.79 255.41 M278.06 243.68L278.06 255.41 M289.79 255.41L301.52 255.41 M301.52 255.41L313.25 255.41 M313.25 255.41L324.98 255.41 M324.98 243.68L324.98 255.41"/><path d="M278.06 278.87L289.79 278.87 M278.06 278.87L278.06 290.60 M289.79 278.87L301.52 278.87 M301.52 278.87L301.52 290.60 M278.06 302.33L289.79 302.33 M278.06 290.60L278.06 302.33 M289.79 302.33L301.52 302.33 M301.52 290.60L301.52 302.33"/><path d="M313.25 267.14L324.98 267.14 M313.25 267.14L313.25 278.87 M324.98 267.14L336.71 267.14 M336.71 267.14L348.44 267.14 M348.44 267.14L348.44 278.87 M313.25 278.87L313.25 290.60 M324.98 290.60L336.71 290.60 M336.71 290.60L348.44 290.60 M348.44 278.87L348.44 290.60 M313.25 302.33L324.98 302.33 M313.25 290.60L313.25 302.33 M324.98 290.60L324.98 302.33"/><path d="M360.17 243.68L371.90 243.68 M360.17 243.68L360.17 255.41 M371.90 243.68L383.63 243.68 M383.63 243.68L383.63 255.41 M360.17 255.41L360.17 267.14 M383.63 255.41L383.63 267.14 M360.17 267.14L360.17 278.87 M383.63 267.14L395.36 267.14 M395.36 267.14L395.36 278.87 M360.17 278.87L360.17 290.60 M395.36 278.87L395.36 290.60 M360.17 302.33L371.90 302.33 M360.17 290.60L360.17 302.33 M371.90 302.33L383.63 302.33 M383.63 302.33L395.36 302.33 M395.36 290.60L407.09 290.60 M395.36 302.33L407.09 302.33 M407.09 290.60L407.09 302.33"/><path d="M336.71 314.06L348.44 314.06 M336.71 325.79L348.44 325.79 M336.71 314.06L336.71 325.79 M348.44 314.06L360.17 314.06 M348.44 325.79L360.17 325.79 M360.17 314.06L371.90 314.06 M360.17 325.79L371.90 325.79 M371.90 314.06L383.63 314.06 M383.63 314.06L395.36 314.06 M395.36 314.06L407.09 314.06 M407.09 314.06L418.82 314.06 M418.82 314.06L430.55 314.06 M430.55 314.06L430.55 325.79 M371.90 337.52L383.63 337.52 M371.90 325.79L371.90 337.52 M430.55 325.79L430.55 337.52 M383.63 349.25L395.36 349.25 M383.63 337.52L383.63 349.25 M430.55 337.52L442.28 337.52 M442.28 337.52L442.28 349.25 M395.36 360.98L407.09 360.98 M395.36 349.25L395.36 360.98 M442.28 349.25L442.28 360.98 M407.09 372.71L418.82 372.71 M407.09 360.98L407.09 372.71 M442.28 360.98L442.28 372.71 M418.82 384.44L430.55 384.44 M418.82 372.71L418.82 384.44 M430.55 384.44L442.28 384.44 M442.28 372.71L442.28 384.44"/><path d="M418.82 278.87L430.55 278.87 M418.82 290.60L430.55 290.60 M418.82 278.87L418.82 290.60 M430.55 278.87L442.28 278.87 M442.28 278.87L454.01 278.87 M454.01 278.87L465.74 278.87 M465.74 278.87L465.74 290.60 M430.55 302.33L442.28 302.33 M430.55 290.60L430.55 302.33 M442.28 302.33L454.01 302.33 M454.01 302.33L465.74 302.33 M465.74 290.60L465.74 302.33"/><path d="M395.36 243.68L407.09 243.68 M395.36 255.41L407.09 255.41 M395.36 243.68L395.36 255.41 M407.09 243.68L418.82 243.68 M418.82 243.68L430.55 243.68 M430.55 243.68L442.28 243.68 M442.28 243.68L454.01 243.68 M454.01 243.68L465.74 243.68 M465.74 243.68L477.47 243.68 M477.47 243.68L477.47 255.41 M407.09 267.14L418.82 267.14 M407.09 255.41L407.09 267.14 M418.82 267.14L430.55 267.14 M430.55 267.14L442.28 267.14 M442.28 267.14L454.01 267.14 M454.01 267.14L465.74 267.14 M465.74 267.14L477.47 267.14 M477.47 255.41L477.47 267.14"/><path d="M430.55 196.76L442.28 196.76 M430.55 196.76L430.55 208.49 M442.28 196.76L454.01 196.76 M454.01 196.76L454.01 208.49 M418.82 208.49L430.55 208.49 M418.82 208.49L418.82 220.22 M454.01 208.49L454.01 220.22 M383.63 220.22L395.36 220.22 M383.63 231.95L395.36 231.95 M383.63 220.22L383.63 231.95 M395.36 220.22L407.09 220.22 M395.36 231.95L407.09 231.95 M407.09 220.22L418.82 220.22 M407.09 231.95L418.82 231.95 M418.82 231.95L430.55 231.95 M430.55 231.95L442.28 231.95 M442.28 231.95L454.01 231.95 M454.01 220.22L454.01 231.95"/><path d="M418.82 173.30L430.55 173.30 M418.82 185.03L430.55 185.03 M418.82 173.30L418.82 185.03 M430.55 173.30L442.28 173.30 M430.55 185.03L442.28 185.03 M442.28 173.30L454.01 173.30 M442.28 185.03L454.01 185.03 M454.01 173.30L465.74 173.30 M454.01 185.03L465.74 185.03 M465.74 173.30L477.47 173.30 M477.47 173.30L477.47 185.03 M465.74 185.03L465.74 196.76 M477.47 185.03L477.47 196.76 M465.74 196.76L465.74 208.49 M477.47 196.76L477.47 208.49 M465.74 220.22L477.47 220.22 M465.74 208.49L465.74 220.22 M477.47 208.49L477.47 220.22"/><path d="M489.20 173.30L500.93 173.30 M489.20 185.03L500.93 185.03 M489.20 173.30L489.20 185.03 M500.93 173.30L500.93 185.03"/><path d="M407.09 126.38L418.82 126.38 M407.09 126.38L407.09 138.11 M418.82 126.38L430.55 126.38 M430.55 126.38L442.28 126.38 M442.28 126.38L454.01 126.38 M454.01 126.38L465.74 126.38 M465.74 126.38L477.47 126.38 M477.47 126.38L477.47 138.11 M407.09 138.11L407.09 149.84 M477.47 138.11L477.47 149.84 M407.09 161.57L418.82 161.57 M407.09 149.84L407.09 161.57 M418.82 161.57L430.55 161.57 M430.55 161.57L442.28 161.57 M442.28 161.57L454.01 161.57 M454.01 161.57L465.74 161.57 M465.74 161.57L477.47 161.57 M477.47 149.84L477.47 161.57"/><path d="M500.93 138.11L512.66 138.11 M500.93 138.11L500.93 149.84 M512.66 138.11L524.39 138.11 M524.39 138.11L536.12 138.11 M536.12 138.11L536.12 149.84 M500.93 161.57L512.66 161.57 M500.93 149.84L500.93 161.57 M536.12 149.84L536.12 161.57 M512.66 161.57L512.66 173.30 M536.12 161.57L536.12 173.30 M512.66 173.30L512.66 185.03 M536.12 173.30L536.12 185.03 M512.66 196.76L524.39 196.76 M512.66 185.03L512.66 196.76 M524.39 196.76L536.12 196.76 M536.12 185.03L536.12 196.76"/><path d="M465.74 56.00L477.47 56.00 M465.74 56.00L465.74 67.73 M477.47 56.00L489.20 56.00 M489.20 56.00L500.93 56.00 M500.93 56.00L500.93 67.73 M454.01 67.73L465.74 67.73 M454.01 67.73L454.01 79.46 M500.93 67.73L500.93 79.46 M442.28 79.46L454.01 79.46 M442.28 79.46L442.28 91.19 M500.93 79.46L500.93 91.19 M430.55 91.19L442.28 91.19 M430.55 91.19L430.55 102.92 M500.93 91.19L500.93 102.92 M418.82 102.92L430.55 102.92 M418.82 114.65L430.55 114.65 M418.82 102.92L418.82 114.65 M430.55 114.65L442.28 114.65 M442.28 114.65L454.01 114.65 M454.01 114.65L465.74 114.65 M465.74 114.65L477.47 114.65 M477.47 114.65L489.20 114.65 M500.93 102.92L500.93 114.65 M489.20 126.38L500.93 126.38 M489.20 114.65L489.20 126.38 M500.93 114.65L512.66 114.65 M500.93 126.38L512.66 126.38 M512.66 114.65L512.66 126.38"/><path d="M500.93 32.54L512.66 32.54 M500.93 44.27L512.66 44.27 M500.93 32.54L500.93 44.27 M512.66 32.54L512.66 44.27"/><path d="M524.39 20.81L536.12 20.81 M524.39 20.81L524.39 32.54 M536.12 20.81L536.12 32.54 M524.39 44.27L536.12 44.27 M524.39 32.54L524.39 44.27 M536.12 32.54L536.12 44.27"/><path d="M547.85 20.81L559.58 20.81 M547.85 20.81L547.85 32.54 M559.58 20.81L559.58 32.54 M547.85 44.27L559.58 44.27 M547.85 32.54L547.85 44.27 M559.58 32.54L559.58 44.27"/><path d="M512.66 56.00L524.39 56.00 M512.66 56.00L512.66 67.73 M524.39 56.00L536.12 56.00 M536.12 56.00L547.85 56.00 M547.85 56.00L559.58 56.00 M559.58 56.00L559.58 67.73 M512.66 79.46L524.39 79.46 M512.66 67.73L512.66 79.46 M524.39 79.46L536.12 79.46 M536.12 79.46L547.85 79.46 M547.85 79.46L559.58 79.46 M559.58 67.73L571.31 67.73 M559.58 79.46L571.31 79.46 M571.31 67.73L571.31 79.46"/><path d="M512.66 91.19L524.39 91.19 M512.66 102.92L524.39 102.92 M512.66 91.19L512.66 102.92 M524.39 91.19L536.12 91.19 M536.12 91.19L547.85 91.19 M547.85 91.19L547.85 102.92 M524.39 114.65L536.12 114.65 M524.39 102.92L524.39 114.65 M536.12 114.65L547.85 114.65 M547.85 102.92L547.85 114.65"/><path d="M559.58 91.19L571.31 91.19 M559.58 91.19L559.58 102.92 M571.31 91.19L571.31 102.92 M559.58 114.65L571.31 114.65 M559.58 102.92L559.58 114.65 M571.31 102.92L571.31 114.65"/><path d="M149.03 360.98L160.76 360.98 M149.03 372.71L160.76 372.71 M149.03 360.98L149.03 372.71 M160.76 360.98L172.49 360.98 M160.76 372.71L172.49 372.71 M172.49 360.98L172.49 372.71"/><path d="M43.46 360.98L55.19 360.98 M43.46 372.71L55.19 372.71 M43.46 360.98L43.46 372.71 M55.19 360.98L55.19 372.71"/><path d="M117.80 91.60h11.73v11.73h-11.73z"/><path d="M117.80 114.90h11.73v11.73h-11.73z"/></g>
<g font-family='"Liberation Sans", sans-serif' fill="#ffffff" fill-opacity="0.74" stroke="#505050" stroke-opacity="0.75" stroke-width="1.15" paint-order="stroke"><text x="43.40" y="85.00" font-size="17.88" text-anchor="middle" textLength="26.60" lengthAdjust="spacingAndGlyphs">WA</text><text x="33.30" y="120.75" font-size="14.39" text-anchor="middle" textLength="18.80" lengthAdjust="spacingAndGlyphs">OR</text><text x="79.50" y="155.30" font-size="14.25" text-anchor="middle" textLength="19.30" lengthAdjust="spacingAndGlyphs">NV</text><text x="114.60" y="155.30" font-size="16.48" text-anchor="middle" textLength="19.40" lengthAdjust="spacingAndGlyphs">UT</text><text x="156.80" y="155.75" font-size="18.30" text-anchor="middle" textLength="25.40" lengthAdjust="spacingAndGlyphs">CO</text><text x="108.20" y="196.60" font-size="16.48" text-anchor="middle">AZ</text><text x="68.00" y="237.70" font-size="19.27" text-anchor="middle" textLength="23.10" lengthAdjust="spacingAndGlyphs">CA</text><text x="197.40" y="180.50" font-size="16.48" text-anchor="middle" textLength="18.80" lengthAdjust="spacingAndGlyphs">KS</text><text x="197.00" y="214.95" font-size="14.39" text-anchor="middle" textLength="19.40" lengthAdjust="spacingAndGlyphs">OK</text><text x="172.30" y="271.85" font-size="18.30" text-anchor="middle" textLength="22.00" lengthAdjust="spacingAndGlyphs">TX</text><text x="242.10" y="119.25" font-size="13.27" text-anchor="middle" textLength="18.80" lengthAdjust="spacingAndGlyphs">MN</text><text x="243.40" y="166.50" font-size="17.88" text-anchor="middle" textLength="15.40" lengthAdjust="spacingAndGlyphs">IA</text><text x="248.90" y="214.20" font-size="17.88" text-anchor="middle" textLength="27.10" lengthAdjust="spacingAndGlyphs">MO</text><text x="243.20" y="249.10" font-size="14.25" text-anchor="middle" textLength="19.40" lengthAdjust="spacingAndGlyphs">AR</text><text x="246.30" y="295.65" font-size="17.74" text-anchor="middle" textLength="20.20" lengthAdjust="spacingAndGlyphs">LA</text><text x="283.70" y="120.10" font-size="17.88" text-anchor="middle" textLength="18.40" lengthAdjust="spacingAndGlyphs">WI</text><text x="286.60" y="167.20" font-size="17.88" text-anchor="middle" textLength="12.80" lengthAdjust="spacingAndGlyphs">IL</text><text x="341.00" y="108.50" font-size="17.88" text-anchor="middle" textLength="18.10" lengthAdjust="spacingAndGlyphs">MI</text><text x="325.90" y="167.20" font-size="18.44" text-anchor="middle" textLength="14.40" lengthAdjust="spacingAndGlyphs">IN</text><text x="372.00" y="167.20" font-size="17.88" text-anchor="middle" textLength="24.40" lengthAdjust="spacingAndGlyphs">OH</text><text x="348.70" y="214.65" font-size="16.06" text-anchor="middle" textLength="18.40" lengthAdjust="spacingAndGlyphs">KY</text><text x="301.90" y="248.95" font-size="18.58" text-anchor="middle" textLength="22.80" lengthAdjust="spacingAndGlyphs">TN</text><text x="289.80" y="296.55" font-size="15.50" text-anchor="middle" textLength="20.40" lengthAdjust="spacingAndGlyphs">MS</text><text x="330.60" y="283.20" font-size="16.20" text-anchor="middle">AL</text><text x="379.50" y="284.60" font-size="18.44" text-anchor="middle" textLength="23.70" lengthAdjust="spacingAndGlyphs">GA</text><text x="449.30" y="296.20" font-size="19.55" text-anchor="middle" textLength="22.60" lengthAdjust="spacingAndGlyphs">SC</text><text x="444.00" y="260.80" font-size="18.44" text-anchor="middle" textLength="23.40" lengthAdjust="spacingAndGlyphs">NC</text><text x="412.70" y="342.65" font-size="17.46" text-anchor="middle" textLength="18.40" lengthAdjust="spacingAndGlyphs">FL</text><text x="437.00" y="225.25" font-size="18.58" text-anchor="middle" textLength="21.10" lengthAdjust="spacingAndGlyphs">VA</text><text x="442.90" y="149.55" font-size="17.46" text-anchor="middle" textLength="20.40" lengthAdjust="spacingAndGlyphs">PA</text><text x="476.80" y="93.55" font-size="17.46" text-anchor="middle" textLength="23.40" lengthAdjust="spacingAndGlyphs">NY</text><text x="523.80" y="155.05" font-size="17.46" text-anchor="middle" textLength="19.20" lengthAdjust="spacingAndGlyphs">NJ</text><text x="538.20" y="73.15" font-size="17.46" text-anchor="middle" textLength="24.70" lengthAdjust="spacingAndGlyphs">MA</text><text x="536.50" y="108.40" font-size="14.80" text-anchor="middle" textLength="19.10" lengthAdjust="spacingAndGlyphs">CT</text></g>
<g font-family='"Liberation Sans", sans-serif' fill="#000" stroke="#000" stroke-width="0.5"><text x="97.20" y="102.60" font-size="12.29" textLength="19.60" lengthAdjust="spacingAndGlyphs">MT</text><text x="97.50" y="125.90" font-size="12.29" textLength="19.80" lengthAdjust="spacingAndGlyphs">WY</text><text x="79.90" y="114.10" font-size="12.43" textLength="12.40" lengthAdjust="spacingAndGlyphs">ID</text><text x="196.40" y="90.60" font-size="11.45" textLength="18.60" lengthAdjust="spacingAndGlyphs">ND</text><text x="196.40" y="114.40" font-size="12.71" textLength="18.60" lengthAdjust="spacingAndGlyphs">SD</text><text x="184.30" y="137.70" font-size="12.15" textLength="18.70" lengthAdjust="spacingAndGlyphs">NE</text><text x="149.90" y="184.60" font-size="11.73" textLength="20.40" lengthAdjust="spacingAndGlyphs">NM</text><text x="372.60" y="199.20" font-size="12.43" textLength="21.70" lengthAdjust="spacingAndGlyphs">WV</text><text x="478.30" y="219.60" font-size="11.31" textLength="20.40" lengthAdjust="spacingAndGlyphs">MD</text><text x="530.80" y="210.90" font-size="11.17" textLength="20.20" lengthAdjust="spacingAndGlyphs">DE</text><text x="472.00" y="20.60" font-size="12.99" textLength="18.90" lengthAdjust="spacingAndGlyphs">NH</text><text x="482.30" y="43.90" font-size="12.15" textLength="17.60" lengthAdjust="spacingAndGlyphs">VT</text><text x="560.90" y="32.40" font-size="12.99" textLength="19.30" lengthAdjust="spacingAndGlyphs">ME</text><text x="572.80" y="102.10" font-size="11.31" textLength="12.20" lengthAdjust="spacingAndGlyphs">RI</text><text x="152.50" y="358.80" font-size="12.15" textLength="13.00" lengthAdjust="spacingAndGlyphs">HI</text><text x="56.00" y="372.40" font-size="13.69" textLength="19.70" lengthAdjust="spacingAndGlyphs">AK</text></g>
<g fill="none" stroke="#222" stroke-width="1"><path d="M492.5 16 L512.8 16 L523.4 25.9"/><path d="M495.2 186.5 L506.5 206.9 L528.2 206.9"/></g>
<rect x="503.5" y="314.2" width="200" height="200" fill="none" stroke="#b8b8b8" stroke-width="1"/>
<text x="505.6" y="324.2" font-family='"Liberation Sans", sans-serif' font-size="10" textLength="92.5" lengthAdjust="spacingAndGlyphs" fill="#000" stroke="#000" stroke-width="0.25">Non-voting Delegates</text>
<circle cx="549.1" cy="331.70" r="4.5" fill="#a3d1e8" stroke="#2a2a2a" stroke-width="1"/>
<text x="554.8" y="335.30" font-family='"Liberation Sans", sans-serif' font-size="9.5" fill="#000" stroke="#000" stroke-width="0.35">DC</text>
<circle cx="549.1" cy="343.25" r="4.5" fill="#f3877f"/>
<path d="M545.92 340.07 A4.5 4.5 0 0 1 552.28 346.43 Z" fill="#c3c3ea"/>
<circle cx="549.1" cy="343.25" r="4.5" fill="none" stroke="#2a2a2a" stroke-width="1"/>
<text x="554.8" y="346.85" font-family='"Liberation Sans", sans-serif' font-size="9.5" fill="#000" stroke="#000" stroke-width="0.35">PR</text>
<circle cx="549.1" cy="354.80" r="4.5" fill="#a3d1e8" stroke="#2a2a2a" stroke-width="1"/>
<text x="554.8" y="358.40" font-family='"Liberation Sans", sans-serif' font-size="9.5" fill="#000" stroke="#000" stroke-width="0.35">VI</text>
<circle cx="549.1" cy="366.35" r="4.5" fill="#a3d1e8" stroke="#2a2a2a" stroke-width="1"/>
<text x="554.8" y="369.95" font-family='"Liberation Sans", sans-serif' font-size="9.5" fill="#000" stroke="#000" stroke-width="0.35">GU</text>
<circle cx="549.1" cy="377.90" r="4.5" fill="#f3877f" stroke="#2a2a2a" stroke-width="1"/>
<text x="554.8" y="381.50" font-family='"Liberation Sans", sans-serif' font-size="9.5" fill="#000" stroke="#000" stroke-width="0.35">AS</text>
<circle cx="549.1" cy="389.45" r="4.5" fill="#8c8c8c" stroke="#2a2a2a" stroke-width="1"/>
<text x="554.8" y="393.05" font-family='"Liberation Sans", sans-serif' font-size="9.5" fill="#000" stroke="#000" stroke-width="0.35">MP</text>
</svg></body></html>
